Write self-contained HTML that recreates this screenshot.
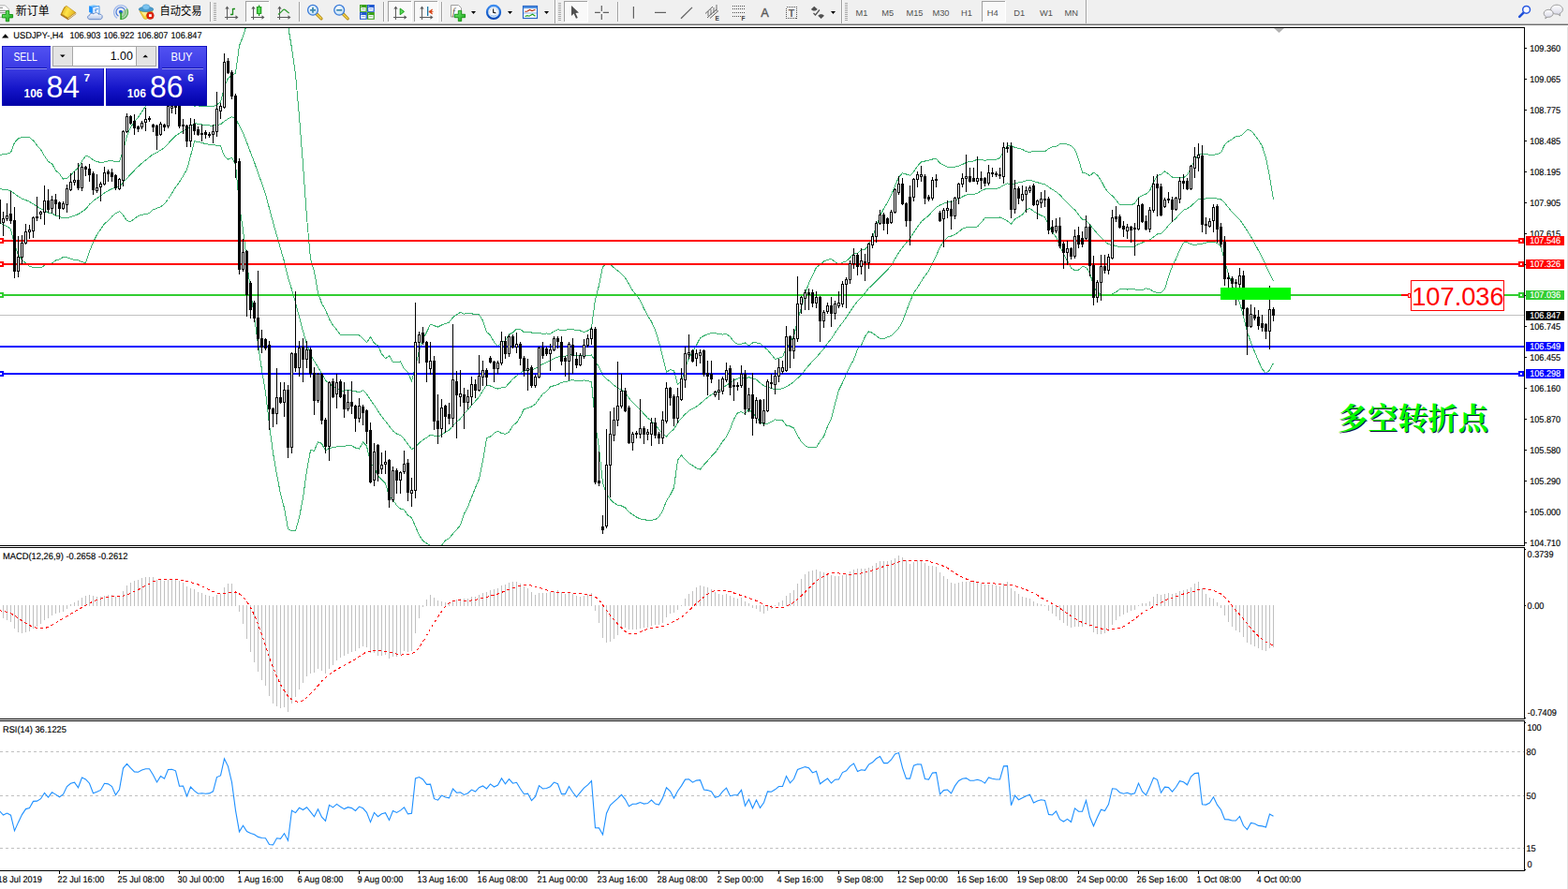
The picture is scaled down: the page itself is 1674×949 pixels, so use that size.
<!DOCTYPE html><html><head><meta charset="utf-8"><title>USDJPY H4</title><style>html,body{margin:0;padding:0;background:#fff;overflow:hidden;width:1674px;height:949px}</style></head><body><svg width="1674" height="949" viewBox="0 0 1674 949" style="position:absolute;left:0;top:0;display:block"><rect x="0" y="0" width="1674" height="949" fill="#fff" />
<g shape-rendering="crispEdges">
<rect x="0" y="29" width="1628" height="1" fill="#000" />
<rect x="1627" y="29" width="1" height="901" fill="#000" />
<rect x="0" y="582" width="1628" height="1" fill="#000" />
<rect x="0" y="584" width="1628" height="1" fill="#000" />
<rect x="0" y="767" width="1628" height="1" fill="#000" />
<rect x="0" y="769" width="1628" height="1" fill="#000" />
<rect x="0" y="929" width="1628" height="1" fill="#000" />
<rect x="1673" y="27" width="1" height="922" fill="#E4E4E4" />
</g>
<defs><clipPath id="cm"><rect x="0" y="30" width="1627" height="552"/></clipPath><clipPath id="c2"><rect x="0" y="585" width="1627" height="182"/></clipPath><clipPath id="c3"><rect x="0" y="770" width="1627" height="159"/></clipPath></defs>
<g clip-path="url(#cm)" shape-rendering="crispEdges">
<rect x="0" y="336" width="1627" height="1" fill="#C0C0C0" />
<polyline points="-0.5,165.7 3.5,164.5 7.5,164.1 11.5,162.9 15.5,152.3 19.5,147.8 23.5,146.4 27.5,146.1 31.5,146.7 35.5,150.0 39.5,155.3 43.5,159.5 47.5,166.5 51.5,172.5 55.5,174.7 59.5,182.0 63.5,185.6 67.5,191.1 71.5,190.2 75.5,187.1 79.5,182.6 83.5,179.3 87.5,172.1 91.5,166.2 95.5,167.6 99.5,170.8 103.5,172.6 107.5,173.4 111.5,173.0 115.5,171.8 119.5,171.7 123.5,172.8 127.5,172.2 131.5,160.1 135.5,145.2 139.5,135.8 143.5,130.0 147.5,125.3 151.5,119.3 155.5,113.3 159.5,108.0 163.5,105.2 167.5,103.3 171.5,100.0 175.5,97.8 179.5,94.1 183.5,91.4 187.5,89.9 191.5,90.4 195.5,91.7 199.5,94.9 203.5,102.5 207.5,113.1 211.5,112.9 215.5,113.6 219.5,113.7 223.5,113.6 227.5,113.6 231.5,111.6 235.5,109.3 239.5,92.6 243.5,83.4 247.5,80.8 251.5,78.1 255.5,48.8 259.5,38.9 263.5,25.6 267.5,15.9 271.5,8.0 275.5,1.3 279.5,-3.8 283.5,-3.8 287.5,-8.5 291.5,-9.3 295.5,-4.1 299.5,4.0 303.5,16.0 307.5,27.4 311.5,51.4 315.5,79.4 319.5,124.3 323.5,175.7 327.5,231.7 331.5,276.0 335.5,289.9 339.5,312.3 343.5,323.8 347.5,330.7 351.5,340.6 355.5,347.2 359.5,352.0 363.5,357.6 367.5,357.6 371.5,357.8 375.5,357.8 379.5,357.5 383.5,357.9 387.5,361.4 391.5,365.5 395.5,359.8 399.5,366.2 403.5,369.0 407.5,377.7 411.5,382.8 415.5,379.6 419.5,386.5 423.5,386.5 427.5,385.9 431.5,393.6 435.5,397.8 439.5,406.8 443.5,391.8 447.5,374.3 451.5,362.0 455.5,354.7 459.5,346.2 463.5,347.7 467.5,349.0 471.5,347.0 475.5,345.5 479.5,344.0 483.5,338.8 487.5,335.9 491.5,333.3 495.5,335.1 499.5,334.6 503.5,334.7 507.5,335.9 511.5,335.9 515.5,342.3 519.5,354.3 523.5,358.0 527.5,365.2 531.5,369.9 535.5,365.1 539.5,363.8 543.5,357.0 547.5,355.1 551.5,351.2 555.5,351.5 559.5,354.7 563.5,354.4 567.5,355.0 571.5,355.7 575.5,355.5 579.5,356.3 583.5,356.0 587.5,356.4 591.5,353.8 595.5,351.8 599.5,352.5 603.5,352.5 607.5,351.4 611.5,351.3 615.5,352.9 619.5,353.0 623.5,354.5 627.5,353.1 631.5,349.9 635.5,319.6 639.5,304.7 643.5,284.7 647.5,281.6 651.5,282.0 655.5,285.8 659.5,289.0 663.5,292.2 667.5,296.7 671.5,303.2 675.5,310.3 679.5,315.2 683.5,320.6 687.5,329.5 691.5,337.1 695.5,343.4 699.5,352.5 703.5,365.1 707.5,380.5 711.5,397.4 715.5,394.5 719.5,395.6 723.5,410.7 727.5,406.9 731.5,393.4 735.5,382.2 739.5,375.2 743.5,368.5 747.5,360.7 751.5,358.5 755.5,356.6 759.5,355.5 763.5,355.7 767.5,356.6 771.5,357.1 775.5,356.4 779.5,359.5 783.5,364.7 787.5,367.6 791.5,367.1 795.5,366.0 799.5,369.1 803.5,366.0 807.5,365.8 811.5,366.7 815.5,370.6 819.5,373.5 823.5,378.4 827.5,383.5 831.5,382.3 835.5,380.9 839.5,371.2 843.5,366.0 847.5,358.5 851.5,342.6 855.5,328.1 859.5,313.9 863.5,302.2 867.5,293.8 871.5,285.4 875.5,282.7 879.5,278.9 883.5,277.4 887.5,276.4 891.5,279.4 895.5,282.8 899.5,280.2 903.5,278.7 907.5,275.0 911.5,270.1 915.5,270.4 919.5,266.3 923.5,266.2 927.5,261.5 931.5,252.9 935.5,241.9 939.5,230.4 943.5,222.6 947.5,216.1 951.5,208.1 955.5,198.5 959.5,188.9 963.5,184.8 967.5,186.0 971.5,187.3 975.5,183.3 979.5,177.4 983.5,172.9 987.5,172.0 991.5,171.2 995.5,170.0 999.5,169.4 1003.5,174.1 1007.5,176.4 1011.5,178.2 1015.5,178.6 1019.5,178.2 1023.5,177.1 1027.5,175.6 1031.5,173.4 1035.5,172.4 1039.5,171.9 1043.5,170.2 1047.5,170.3 1051.5,171.4 1055.5,170.3 1059.5,170.2 1063.5,170.1 1067.5,168.6 1071.5,161.4 1075.5,155.5 1079.5,155.5 1083.5,157.5 1087.5,158.3 1091.5,159.3 1095.5,161.9 1099.5,162.3 1103.5,161.3 1107.5,161.3 1111.5,161.7 1115.5,161.9 1119.5,158.7 1123.5,156.8 1127.5,156.5 1131.5,153.8 1135.5,153.2 1139.5,154.2 1143.5,155.4 1147.5,159.2 1151.5,170.2 1155.5,184.1 1159.5,185.2 1163.5,187.6 1167.5,184.3 1171.5,186.7 1175.5,192.7 1179.5,200.4 1183.5,205.7 1187.5,209.1 1191.5,213.3 1195.5,218.9 1199.5,218.9 1203.5,218.3 1207.5,218.9 1211.5,217.1 1215.5,211.0 1219.5,208.5 1223.5,207.1 1227.5,203.6 1231.5,194.5 1235.5,187.4 1239.5,186.2 1243.5,182.9 1247.5,185.7 1251.5,189.0 1255.5,189.6 1259.5,189.7 1263.5,189.6 1267.5,186.9 1271.5,179.4 1275.5,171.0 1279.5,164.1 1283.5,164.3 1287.5,164.7 1291.5,165.2 1295.5,165.2 1299.5,164.6 1303.5,162.8 1307.5,154.5 1311.5,150.9 1315.5,148.5 1319.5,145.5 1323.5,145.6 1327.5,142.8 1331.5,138.6 1335.5,139.4 1339.5,144.0 1343.5,149.5 1347.5,155.9 1351.5,168.8 1355.5,188.5 1359.5,213.1" fill="none" stroke="#3CB371" stroke-width="1" />
<polyline points="-0.5,201.1 3.5,202.5 7.5,202.7 11.5,203.7 15.5,206.8 19.5,209.7 23.5,212.1 27.5,213.5 31.5,215.4 35.5,217.7 39.5,220.5 43.5,222.6 47.5,224.9 51.5,227.1 55.5,227.9 59.5,230.0 63.5,231.3 67.5,232.8 71.5,232.5 75.5,231.7 79.5,230.2 83.5,228.6 87.5,226.0 91.5,223.3 95.5,218.2 99.5,214.6 103.5,211.6 107.5,209.1 111.5,206.0 115.5,203.6 119.5,201.5 123.5,200.2 127.5,199.0 131.5,194.8 135.5,190.4 139.5,186.1 143.5,181.8 147.5,177.8 151.5,174.3 155.5,171.0 159.5,167.7 163.5,164.5 167.5,162.8 171.5,160.3 175.5,157.8 179.5,153.3 183.5,149.0 187.5,144.8 191.5,142.4 195.5,139.8 199.5,137.9 203.5,134.5 207.5,131.9 211.5,132.1 215.5,133.0 219.5,133.6 223.5,134.0 227.5,134.1 231.5,133.4 235.5,132.7 239.5,129.6 243.5,126.7 247.5,124.6 251.5,126.6 255.5,134.3 259.5,142.1 263.5,152.1 267.5,162.9 271.5,173.1 275.5,184.5 279.5,195.5 283.5,207.4 287.5,222.3 291.5,237.2 295.5,251.3 299.5,265.5 303.5,279.2 307.5,296.1 311.5,309.1 315.5,323.1 319.5,338.3 323.5,353.6 327.5,367.2 331.5,378.4 335.5,385.5 339.5,391.9 343.5,398.7 347.5,406.0 351.5,409.4 355.5,412.5 359.5,414.4 363.5,417.0 367.5,417.0 371.5,416.4 375.5,416.9 379.5,417.8 383.5,418.6 387.5,416.7 391.5,420.8 395.5,426.9 399.5,432.5 403.5,438.6 407.5,444.7 411.5,449.5 415.5,454.8 419.5,459.9 423.5,463.1 427.5,464.5 431.5,468.8 435.5,474.0 439.5,479.7 443.5,476.8 447.5,472.9 451.5,469.7 455.5,467.3 459.5,464.2 463.5,465.1 467.5,465.9 471.5,464.6 475.5,461.1 479.5,459.3 483.5,454.3 487.5,450.6 491.5,447.0 495.5,441.8 499.5,437.8 503.5,432.7 507.5,428.3 511.5,423.6 515.5,417.1 519.5,411.0 523.5,412.0 527.5,413.9 531.5,415.0 535.5,413.9 539.5,413.5 543.5,409.0 547.5,404.7 551.5,401.3 555.5,398.2 559.5,395.6 563.5,395.0 567.5,394.5 571.5,393.6 575.5,390.7 579.5,388.5 583.5,386.9 587.5,384.7 591.5,382.7 595.5,381.2 599.5,380.3 603.5,380.2 607.5,378.9 611.5,378.4 615.5,379.7 619.5,379.8 623.5,380.2 627.5,379.8 631.5,379.0 635.5,385.6 639.5,391.6 643.5,400.2 647.5,404.4 651.5,407.5 655.5,411.3 659.5,414.1 663.5,416.1 667.5,419.3 671.5,424.8 675.5,429.8 679.5,433.7 683.5,437.3 687.5,442.1 691.5,446.2 695.5,449.3 699.5,453.6 703.5,458.5 707.5,462.9 711.5,466.0 715.5,461.5 719.5,458.1 723.5,451.0 727.5,446.4 731.5,442.1 735.5,438.5 739.5,436.1 743.5,434.1 747.5,431.0 751.5,427.4 755.5,424.3 759.5,421.4 763.5,419.4 767.5,417.1 771.5,414.2 775.5,411.4 779.5,408.8 783.5,406.0 787.5,404.1 791.5,403.4 795.5,404.0 799.5,402.7 803.5,403.9 807.5,405.1 811.5,408.8 815.5,411.8 819.5,412.9 823.5,414.5 827.5,415.7 831.5,415.3 835.5,414.9 839.5,412.7 843.5,410.5 847.5,407.7 851.5,403.8 855.5,399.9 859.5,394.8 863.5,390.0 867.5,385.6 871.5,381.5 875.5,376.8 879.5,372.4 883.5,366.3 887.5,361.7 891.5,355.3 895.5,349.6 899.5,344.4 903.5,338.9 907.5,332.9 911.5,326.9 915.5,321.6 919.5,317.5 923.5,312.8 927.5,307.7 931.5,304.1 935.5,300.1 939.5,296.0 943.5,292.2 947.5,288.0 951.5,283.4 955.5,276.4 959.5,269.6 963.5,264.2 967.5,259.2 971.5,254.7 975.5,248.1 979.5,242.3 983.5,236.7 987.5,233.2 991.5,230.2 995.5,225.6 999.5,221.2 1003.5,219.0 1007.5,217.2 1011.5,215.7 1015.5,215.3 1019.5,214.4 1023.5,212.3 1027.5,210.0 1031.5,208.1 1035.5,207.6 1039.5,207.4 1043.5,206.1 1047.5,203.9 1051.5,202.0 1055.5,201.6 1059.5,201.5 1063.5,201.5 1067.5,200.3 1071.5,197.5 1075.5,195.8 1079.5,197.4 1083.5,195.7 1087.5,195.0 1091.5,194.3 1095.5,192.9 1099.5,192.4 1103.5,193.5 1107.5,194.7 1111.5,195.9 1115.5,196.9 1119.5,199.5 1123.5,202.3 1127.5,204.7 1131.5,208.1 1135.5,212.3 1139.5,216.3 1143.5,220.7 1147.5,224.0 1151.5,229.1 1155.5,234.3 1159.5,235.2 1163.5,239.4 1167.5,244.7 1171.5,249.3 1175.5,253.4 1179.5,257.8 1183.5,260.6 1187.5,261.5 1191.5,262.5 1195.5,263.9 1199.5,263.9 1203.5,263.7 1207.5,263.9 1211.5,262.9 1215.5,260.4 1219.5,259.0 1223.5,257.5 1227.5,256.1 1231.5,252.9 1235.5,249.9 1239.5,249.2 1243.5,245.7 1247.5,240.5 1251.5,236.6 1255.5,233.0 1259.5,228.3 1263.5,224.3 1267.5,222.8 1271.5,220.0 1275.5,216.3 1279.5,212.3 1283.5,212.2 1287.5,212.0 1291.5,211.6 1295.5,211.7 1299.5,212.1 1303.5,212.9 1307.5,216.5 1311.5,221.6 1315.5,226.7 1319.5,230.3 1323.5,234.3 1327.5,240.1 1331.5,246.4 1335.5,252.6 1339.5,259.9 1343.5,267.4 1347.5,274.8 1351.5,283.6 1355.5,291.8 1359.5,300.3" fill="none" stroke="#3CB371" stroke-width="1" />
<polyline points="-0.5,236.4 3.5,240.5 7.5,241.4 11.5,244.5 15.5,261.3 19.5,271.7 23.5,277.7 27.5,280.9 31.5,284.2 35.5,285.5 39.5,285.7 43.5,285.8 47.5,283.3 51.5,281.7 55.5,281.1 59.5,278.0 63.5,276.9 67.5,274.4 71.5,274.8 75.5,276.2 79.5,277.7 83.5,277.8 87.5,279.8 91.5,280.3 95.5,268.7 99.5,258.4 103.5,250.6 107.5,244.7 111.5,238.9 115.5,235.5 119.5,231.2 123.5,227.5 127.5,225.8 131.5,229.6 135.5,235.7 139.5,236.4 143.5,233.6 147.5,230.4 151.5,229.3 155.5,228.7 159.5,227.4 163.5,223.8 167.5,222.3 171.5,220.7 175.5,217.7 179.5,212.5 183.5,206.5 187.5,199.8 191.5,194.4 195.5,188.0 199.5,181.0 203.5,166.6 207.5,150.8 211.5,151.3 215.5,152.4 219.5,153.6 223.5,154.3 227.5,154.6 231.5,155.2 235.5,156.0 239.5,166.6 243.5,170.1 247.5,168.4 251.5,175.2 255.5,219.7 259.5,245.3 263.5,278.7 267.5,310.0 271.5,338.3 275.5,367.7 279.5,394.8 283.5,418.6 287.5,453.2 291.5,483.6 295.5,506.7 299.5,527.1 303.5,542.4 307.5,564.8 311.5,566.9 315.5,566.8 319.5,552.4 323.5,531.5 327.5,502.6 331.5,480.9 335.5,481.1 339.5,471.6 343.5,473.5 347.5,481.2 351.5,478.2 355.5,477.9 359.5,476.9 363.5,476.4 367.5,476.4 371.5,475.1 375.5,475.9 379.5,478.0 383.5,479.2 387.5,472.0 391.5,476.2 395.5,494.0 399.5,498.7 403.5,508.1 407.5,511.8 411.5,516.2 415.5,529.9 419.5,533.3 423.5,539.7 427.5,543.1 431.5,544.1 435.5,550.1 439.5,552.6 443.5,561.9 447.5,571.4 451.5,577.3 455.5,580.0 459.5,582.2 463.5,582.4 467.5,582.8 471.5,582.3 475.5,576.8 479.5,574.7 483.5,569.9 487.5,565.3 491.5,560.7 495.5,548.5 499.5,541.0 503.5,530.7 507.5,520.7 511.5,511.3 515.5,491.8 519.5,467.7 523.5,466.1 527.5,462.5 531.5,460.1 535.5,462.6 539.5,463.2 543.5,461.0 547.5,454.2 551.5,451.3 555.5,444.8 559.5,436.5 563.5,435.6 567.5,434.0 571.5,431.4 575.5,425.9 579.5,420.6 583.5,417.7 587.5,413.0 591.5,411.7 595.5,410.6 599.5,408.1 603.5,407.9 607.5,406.4 611.5,405.6 615.5,406.5 619.5,406.6 623.5,406.0 627.5,406.5 631.5,408.0 635.5,451.6 639.5,478.5 643.5,515.7 647.5,527.3 651.5,533.0 655.5,536.9 659.5,539.1 663.5,540.0 667.5,542.0 671.5,546.5 675.5,549.3 679.5,552.1 683.5,553.9 687.5,554.7 691.5,555.3 695.5,555.2 699.5,554.6 703.5,551.9 707.5,545.2 711.5,534.6 715.5,528.5 719.5,520.6 723.5,491.2 727.5,485.9 731.5,490.8 735.5,494.7 739.5,496.9 743.5,499.7 747.5,501.2 751.5,496.2 755.5,491.9 759.5,487.2 763.5,483.2 767.5,477.6 771.5,471.3 775.5,466.4 779.5,458.1 783.5,447.3 787.5,440.7 791.5,439.6 795.5,442.0 799.5,436.3 803.5,441.7 807.5,444.3 811.5,450.8 815.5,453.0 819.5,452.3 823.5,450.5 827.5,447.9 831.5,448.4 835.5,448.9 839.5,454.1 843.5,455.0 847.5,457.0 851.5,464.9 855.5,471.6 859.5,475.7 863.5,477.7 867.5,477.4 871.5,477.6 875.5,470.9 879.5,465.9 883.5,455.3 887.5,446.9 891.5,431.3 895.5,416.4 899.5,408.6 903.5,399.1 907.5,390.9 911.5,383.8 915.5,372.7 919.5,368.7 923.5,359.3 927.5,353.9 931.5,355.4 935.5,358.4 939.5,361.6 943.5,361.8 947.5,359.8 951.5,358.6 955.5,354.4 959.5,350.2 963.5,343.5 967.5,332.4 971.5,322.1 975.5,312.8 979.5,307.1 983.5,300.5 987.5,294.4 991.5,289.2 995.5,281.2 999.5,273.0 1003.5,263.9 1007.5,257.9 1011.5,253.1 1015.5,252.0 1019.5,250.6 1023.5,247.6 1027.5,244.3 1031.5,242.7 1035.5,242.8 1039.5,242.9 1043.5,241.9 1047.5,237.6 1051.5,232.6 1055.5,232.9 1059.5,232.9 1063.5,232.9 1067.5,232.0 1071.5,233.7 1075.5,236.0 1079.5,239.3 1083.5,233.9 1087.5,231.7 1091.5,229.3 1095.5,224.0 1099.5,222.5 1103.5,225.6 1107.5,228.1 1111.5,230.0 1115.5,231.9 1119.5,240.3 1123.5,247.8 1127.5,253.0 1131.5,262.3 1135.5,271.5 1139.5,278.5 1143.5,286.0 1147.5,288.8 1151.5,288.1 1155.5,284.5 1159.5,285.3 1163.5,291.2 1167.5,305.1 1171.5,312.0 1175.5,314.1 1179.5,315.2 1183.5,315.4 1187.5,313.9 1191.5,311.7 1195.5,308.9 1199.5,308.9 1203.5,309.0 1207.5,308.9 1211.5,308.8 1215.5,309.9 1219.5,309.5 1223.5,307.9 1227.5,308.5 1231.5,311.3 1235.5,312.4 1239.5,312.3 1243.5,308.6 1247.5,295.3 1251.5,284.3 1255.5,276.4 1259.5,266.8 1263.5,259.1 1267.5,258.7 1271.5,260.6 1275.5,261.6 1279.5,260.6 1283.5,260.1 1287.5,259.3 1291.5,258.0 1295.5,258.2 1299.5,259.5 1303.5,263.0 1307.5,278.6 1311.5,292.2 1315.5,304.8 1319.5,315.1 1323.5,323.1 1327.5,337.5 1331.5,354.2 1335.5,365.8 1339.5,375.7 1343.5,385.4 1347.5,393.8 1351.5,398.5 1355.5,395.0 1359.5,387.6" fill="none" stroke="#3CB371" stroke-width="1" />
<rect x="0" y="256" width="1627" height="2" fill="#FF0000" />
<rect x="0" y="281" width="1627" height="2" fill="#FF0000" />
<rect x="0" y="314" width="1627" height="2" fill="#32CD32" />
<rect x="0" y="369" width="1627" height="2" fill="#0000FF" />
<rect x="0" y="398" width="1627" height="2" fill="#0000FF" />
<rect x="3" y="226" width="1" height="26" fill="#000" />
<rect x="2" y="233" width="3" height="5" fill="#000" />
<rect x="3" y="234" width="1" height="3" fill="#fff" />
<rect x="7" y="217" width="1" height="19" fill="#000" />
<rect x="6" y="230" width="3" height="4" fill="#000" />
<rect x="7" y="231" width="1" height="2" fill="#fff" />
<rect x="11" y="204" width="1" height="35" fill="#000" />
<rect x="10" y="228" width="3" height="8" fill="#000" />
<rect x="15" y="221" width="1" height="76" fill="#000" />
<rect x="14" y="235" width="3" height="55" fill="#000" />
<rect x="19" y="252" width="1" height="44" fill="#000" />
<rect x="18" y="274" width="3" height="16" fill="#000" />
<rect x="19" y="275" width="1" height="14" fill="#fff" />
<rect x="23" y="251" width="1" height="31" fill="#000" />
<rect x="22" y="259" width="3" height="16" fill="#000" />
<rect x="23" y="260" width="1" height="14" fill="#fff" />
<rect x="27" y="239" width="1" height="22" fill="#000" />
<rect x="26" y="247" width="3" height="13" fill="#000" />
<rect x="27" y="248" width="1" height="11" fill="#fff" />
<rect x="31" y="240" width="1" height="15" fill="#000" />
<rect x="30" y="245" width="3" height="3" fill="#000" />
<rect x="31" y="246" width="1" height="1" fill="#fff" />
<rect x="35" y="231" width="1" height="23" fill="#000" />
<rect x="34" y="232" width="3" height="15" fill="#000" />
<rect x="35" y="233" width="1" height="13" fill="#fff" />
<rect x="39" y="210" width="1" height="26" fill="#000" />
<rect x="38" y="231" width="3" height="2" fill="#000" />
<rect x="43" y="225" width="1" height="9" fill="#000" />
<rect x="42" y="226" width="3" height="3" fill="#000" />
<rect x="43" y="227" width="1" height="1" fill="#fff" />
<rect x="47" y="198" width="1" height="42" fill="#000" />
<rect x="46" y="214" width="3" height="13" fill="#000" />
<rect x="47" y="215" width="1" height="11" fill="#fff" />
<rect x="51" y="202" width="1" height="25" fill="#000" />
<rect x="50" y="214" width="3" height="10" fill="#000" />
<rect x="55" y="209" width="1" height="19" fill="#000" />
<rect x="54" y="213" width="3" height="10" fill="#000" />
<rect x="55" y="214" width="1" height="8" fill="#fff" />
<rect x="59" y="207" width="1" height="23" fill="#000" />
<rect x="58" y="213" width="3" height="5" fill="#000" />
<rect x="63" y="215" width="1" height="19" fill="#000" />
<rect x="62" y="216" width="3" height="7" fill="#000" />
<rect x="67" y="215" width="1" height="9" fill="#000" />
<rect x="66" y="217" width="3" height="6" fill="#000" />
<rect x="67" y="218" width="1" height="4" fill="#fff" />
<rect x="71" y="197" width="1" height="30" fill="#000" />
<rect x="70" y="201" width="3" height="18" fill="#000" />
<rect x="71" y="202" width="1" height="16" fill="#fff" />
<rect x="75" y="185" width="1" height="19" fill="#000" />
<rect x="74" y="194" width="3" height="9" fill="#000" />
<rect x="75" y="195" width="1" height="7" fill="#fff" />
<rect x="79" y="183" width="1" height="15" fill="#000" />
<rect x="78" y="192" width="3" height="3" fill="#000" />
<rect x="79" y="193" width="1" height="1" fill="#fff" />
<rect x="83" y="174" width="1" height="29" fill="#000" />
<rect x="82" y="192" width="3" height="9" fill="#000" />
<rect x="87" y="174" width="1" height="30" fill="#000" />
<rect x="86" y="178" width="3" height="23" fill="#000" />
<rect x="87" y="179" width="1" height="21" fill="#fff" />
<rect x="91" y="177" width="1" height="11" fill="#000" />
<rect x="90" y="178" width="3" height="3" fill="#000" />
<rect x="95" y="175" width="1" height="19" fill="#000" />
<rect x="94" y="180" width="3" height="7" fill="#000" />
<rect x="99" y="183" width="1" height="25" fill="#000" />
<rect x="98" y="185" width="3" height="18" fill="#000" />
<rect x="103" y="186" width="1" height="20" fill="#000" />
<rect x="102" y="200" width="3" height="4" fill="#000" />
<rect x="103" y="201" width="1" height="2" fill="#fff" />
<rect x="107" y="194" width="1" height="21" fill="#000" />
<rect x="106" y="196" width="3" height="4" fill="#000" />
<rect x="107" y="197" width="1" height="2" fill="#fff" />
<rect x="111" y="178" width="1" height="20" fill="#000" />
<rect x="110" y="184" width="3" height="13" fill="#000" />
<rect x="111" y="185" width="1" height="11" fill="#fff" />
<rect x="115" y="181" width="1" height="13" fill="#000" />
<rect x="114" y="183" width="3" height="3" fill="#000" />
<rect x="119" y="180" width="1" height="14" fill="#000" />
<rect x="118" y="184" width="3" height="5" fill="#000" />
<rect x="123" y="186" width="1" height="17" fill="#000" />
<rect x="122" y="187" width="3" height="14" fill="#000" />
<rect x="127" y="190" width="1" height="13" fill="#000" />
<rect x="126" y="191" width="3" height="11" fill="#000" />
<rect x="127" y="192" width="1" height="9" fill="#fff" />
<rect x="131" y="139" width="1" height="60" fill="#000" />
<rect x="130" y="140" width="3" height="53" fill="#000" />
<rect x="131" y="141" width="1" height="51" fill="#fff" />
<rect x="135" y="121" width="1" height="21" fill="#000" />
<rect x="134" y="124" width="3" height="17" fill="#000" />
<rect x="135" y="125" width="1" height="15" fill="#fff" />
<rect x="139" y="123" width="1" height="10" fill="#000" />
<rect x="138" y="124" width="3" height="8" fill="#000" />
<rect x="143" y="122" width="1" height="22" fill="#000" />
<rect x="142" y="129" width="3" height="8" fill="#000" />
<rect x="147" y="134" width="1" height="7" fill="#000" />
<rect x="146" y="135" width="3" height="3" fill="#000" />
<rect x="151" y="129" width="1" height="9" fill="#000" />
<rect x="150" y="131" width="3" height="5" fill="#000" />
<rect x="151" y="132" width="1" height="3" fill="#fff" />
<rect x="155" y="115" width="1" height="25" fill="#000" />
<rect x="154" y="127" width="3" height="4" fill="#000" />
<rect x="155" y="128" width="1" height="2" fill="#fff" />
<rect x="159" y="124" width="1" height="6" fill="#000" />
<rect x="158" y="126" width="3" height="2" fill="#000" />
<rect x="163" y="132" width="1" height="9" fill="#000" />
<rect x="162" y="133" width="3" height="3" fill="#000" />
<rect x="167" y="133" width="1" height="27" fill="#000" />
<rect x="166" y="134" width="3" height="11" fill="#000" />
<rect x="171" y="130" width="1" height="15" fill="#000" />
<rect x="170" y="132" width="3" height="12" fill="#000" />
<rect x="171" y="133" width="1" height="10" fill="#fff" />
<rect x="175" y="132" width="1" height="8" fill="#000" />
<rect x="174" y="133" width="3" height="3" fill="#000" />
<rect x="179" y="112" width="1" height="25" fill="#000" />
<rect x="178" y="113" width="3" height="22" fill="#000" />
<rect x="179" y="114" width="1" height="20" fill="#fff" />
<rect x="183" y="108" width="1" height="13" fill="#000" />
<rect x="182" y="113" width="3" height="3" fill="#000" />
<rect x="183" y="114" width="1" height="1" fill="#fff" />
<rect x="187" y="109" width="1" height="13" fill="#000" />
<rect x="186" y="113" width="3" height="2" fill="#000" />
<rect x="191" y="112" width="1" height="25" fill="#000" />
<rect x="190" y="113" width="3" height="22" fill="#000" />
<rect x="195" y="127" width="1" height="16" fill="#000" />
<rect x="194" y="133" width="3" height="2" fill="#000" />
<rect x="199" y="133" width="1" height="24" fill="#000" />
<rect x="198" y="134" width="3" height="17" fill="#000" />
<rect x="203" y="126" width="1" height="31" fill="#000" />
<rect x="202" y="133" width="3" height="18" fill="#000" />
<rect x="203" y="134" width="1" height="16" fill="#fff" />
<rect x="207" y="127" width="1" height="17" fill="#000" />
<rect x="206" y="132" width="3" height="8" fill="#000" />
<rect x="211" y="135" width="1" height="10" fill="#000" />
<rect x="210" y="138" width="3" height="6" fill="#000" />
<rect x="215" y="133" width="1" height="18" fill="#000" />
<rect x="214" y="142" width="3" height="2" fill="#000" />
<rect x="219" y="139" width="1" height="9" fill="#000" />
<rect x="218" y="141" width="3" height="3" fill="#000" />
<rect x="223" y="141" width="1" height="6" fill="#000" />
<rect x="222" y="143" width="3" height="2" fill="#000" />
<rect x="227" y="133" width="1" height="20" fill="#000" />
<rect x="226" y="140" width="3" height="4" fill="#000" />
<rect x="227" y="141" width="1" height="2" fill="#fff" />
<rect x="231" y="98" width="1" height="48" fill="#000" />
<rect x="230" y="116" width="3" height="25" fill="#000" />
<rect x="231" y="117" width="1" height="23" fill="#fff" />
<rect x="235" y="110" width="1" height="17" fill="#000" />
<rect x="234" y="113" width="3" height="6" fill="#000" />
<rect x="235" y="114" width="1" height="4" fill="#fff" />
<rect x="239" y="57" width="1" height="59" fill="#000" />
<rect x="238" y="66" width="3" height="49" fill="#000" />
<rect x="239" y="67" width="1" height="47" fill="#fff" />
<rect x="243" y="62" width="1" height="17" fill="#000" />
<rect x="242" y="65" width="3" height="13" fill="#000" />
<rect x="247" y="75" width="1" height="31" fill="#000" />
<rect x="246" y="77" width="3" height="26" fill="#000" />
<rect x="251" y="100" width="1" height="90" fill="#000" />
<rect x="250" y="102" width="3" height="72" fill="#000" />
<rect x="255" y="169" width="1" height="124" fill="#000" />
<rect x="254" y="172" width="3" height="116" fill="#000" />
<rect x="259" y="255" width="1" height="35" fill="#000" />
<rect x="258" y="269" width="3" height="19" fill="#000" />
<rect x="259" y="270" width="1" height="17" fill="#fff" />
<rect x="263" y="267" width="1" height="71" fill="#000" />
<rect x="262" y="268" width="3" height="47" fill="#000" />
<rect x="267" y="300" width="1" height="40" fill="#000" />
<rect x="266" y="302" width="3" height="29" fill="#000" />
<rect x="271" y="321" width="1" height="23" fill="#000" />
<rect x="270" y="323" width="3" height="17" fill="#000" />
<rect x="275" y="289" width="1" height="85" fill="#000" />
<rect x="274" y="339" width="3" height="23" fill="#000" />
<rect x="279" y="352" width="1" height="25" fill="#000" />
<rect x="278" y="361" width="3" height="10" fill="#000" />
<rect x="283" y="361" width="1" height="13" fill="#000" />
<rect x="282" y="362" width="3" height="10" fill="#000" />
<rect x="287" y="364" width="1" height="95" fill="#000" />
<rect x="286" y="368" width="3" height="69" fill="#000" />
<rect x="291" y="435" width="1" height="21" fill="#000" />
<rect x="290" y="436" width="3" height="6" fill="#000" />
<rect x="295" y="393" width="1" height="60" fill="#000" />
<rect x="294" y="424" width="3" height="18" fill="#000" />
<rect x="295" y="425" width="1" height="16" fill="#fff" />
<rect x="299" y="408" width="1" height="23" fill="#000" />
<rect x="298" y="424" width="3" height="6" fill="#000" />
<rect x="303" y="408" width="1" height="37" fill="#000" />
<rect x="302" y="416" width="3" height="14" fill="#000" />
<rect x="303" y="417" width="1" height="12" fill="#fff" />
<rect x="307" y="411" width="1" height="78" fill="#000" />
<rect x="306" y="416" width="3" height="62" fill="#000" />
<rect x="311" y="376" width="1" height="108" fill="#000" />
<rect x="310" y="377" width="3" height="101" fill="#000" />
<rect x="311" y="378" width="1" height="99" fill="#fff" />
<rect x="315" y="311" width="1" height="86" fill="#000" />
<rect x="314" y="377" width="3" height="16" fill="#000" />
<rect x="319" y="364" width="1" height="38" fill="#000" />
<rect x="318" y="371" width="3" height="22" fill="#000" />
<rect x="319" y="372" width="1" height="20" fill="#fff" />
<rect x="323" y="361" width="1" height="47" fill="#000" />
<rect x="322" y="370" width="3" height="14" fill="#000" />
<rect x="327" y="364" width="1" height="29" fill="#000" />
<rect x="326" y="373" width="3" height="11" fill="#000" />
<rect x="327" y="374" width="1" height="9" fill="#fff" />
<rect x="331" y="371" width="1" height="32" fill="#000" />
<rect x="330" y="373" width="3" height="26" fill="#000" />
<rect x="335" y="392" width="1" height="51" fill="#000" />
<rect x="334" y="398" width="3" height="30" fill="#000" />
<rect x="339" y="398" width="1" height="32" fill="#000" />
<rect x="338" y="399" width="3" height="29" fill="#000" />
<rect x="339" y="400" width="1" height="27" fill="#fff" />
<rect x="343" y="398" width="1" height="55" fill="#000" />
<rect x="342" y="399" width="3" height="50" fill="#000" />
<rect x="347" y="446" width="1" height="38" fill="#000" />
<rect x="346" y="448" width="3" height="29" fill="#000" />
<rect x="351" y="407" width="1" height="85" fill="#000" />
<rect x="350" y="408" width="3" height="69" fill="#000" />
<rect x="351" y="409" width="1" height="67" fill="#fff" />
<rect x="355" y="404" width="1" height="21" fill="#000" />
<rect x="354" y="407" width="3" height="17" fill="#000" />
<rect x="359" y="399" width="1" height="37" fill="#000" />
<rect x="358" y="408" width="3" height="13" fill="#000" />
<rect x="359" y="409" width="1" height="11" fill="#fff" />
<rect x="363" y="405" width="1" height="20" fill="#000" />
<rect x="362" y="407" width="3" height="17" fill="#000" />
<rect x="367" y="408" width="1" height="38" fill="#000" />
<rect x="366" y="421" width="3" height="16" fill="#000" />
<rect x="371" y="416" width="1" height="23" fill="#000" />
<rect x="370" y="429" width="3" height="8" fill="#000" />
<rect x="371" y="430" width="1" height="6" fill="#fff" />
<rect x="375" y="407" width="1" height="35" fill="#000" />
<rect x="374" y="429" width="3" height="5" fill="#000" />
<rect x="379" y="432" width="1" height="29" fill="#000" />
<rect x="378" y="433" width="3" height="14" fill="#000" />
<rect x="383" y="425" width="1" height="26" fill="#000" />
<rect x="382" y="433" width="3" height="14" fill="#000" />
<rect x="383" y="434" width="1" height="12" fill="#fff" />
<rect x="387" y="432" width="1" height="22" fill="#000" />
<rect x="386" y="434" width="3" height="7" fill="#000" />
<rect x="391" y="437" width="1" height="37" fill="#000" />
<rect x="390" y="438" width="3" height="23" fill="#000" />
<rect x="395" y="451" width="1" height="65" fill="#000" />
<rect x="394" y="459" width="3" height="56" fill="#000" />
<rect x="399" y="473" width="1" height="46" fill="#000" />
<rect x="398" y="482" width="3" height="31" fill="#000" />
<rect x="399" y="483" width="1" height="29" fill="#fff" />
<rect x="403" y="474" width="1" height="40" fill="#000" />
<rect x="402" y="475" width="3" height="31" fill="#000" />
<rect x="407" y="483" width="1" height="23" fill="#000" />
<rect x="406" y="496" width="3" height="5" fill="#000" />
<rect x="407" y="497" width="1" height="3" fill="#fff" />
<rect x="411" y="481" width="1" height="25" fill="#000" />
<rect x="410" y="493" width="3" height="3" fill="#000" />
<rect x="411" y="494" width="1" height="1" fill="#fff" />
<rect x="415" y="490" width="1" height="52" fill="#000" />
<rect x="414" y="491" width="3" height="43" fill="#000" />
<rect x="419" y="498" width="1" height="38" fill="#000" />
<rect x="418" y="502" width="3" height="32" fill="#000" />
<rect x="419" y="503" width="1" height="30" fill="#fff" />
<rect x="423" y="500" width="1" height="27" fill="#000" />
<rect x="422" y="502" width="3" height="11" fill="#000" />
<rect x="427" y="503" width="1" height="24" fill="#000" />
<rect x="426" y="504" width="3" height="9" fill="#000" />
<rect x="427" y="505" width="1" height="7" fill="#fff" />
<rect x="431" y="481" width="1" height="25" fill="#000" />
<rect x="430" y="495" width="3" height="9" fill="#000" />
<rect x="431" y="496" width="1" height="7" fill="#fff" />
<rect x="435" y="490" width="1" height="45" fill="#000" />
<rect x="434" y="494" width="3" height="32" fill="#000" />
<rect x="439" y="510" width="1" height="31" fill="#000" />
<rect x="438" y="523" width="3" height="4" fill="#000" />
<rect x="439" y="524" width="1" height="2" fill="#fff" />
<rect x="443" y="323" width="1" height="209" fill="#000" />
<rect x="442" y="365" width="3" height="159" fill="#000" />
<rect x="443" y="366" width="1" height="157" fill="#fff" />
<rect x="447" y="354" width="1" height="34" fill="#000" />
<rect x="446" y="357" width="3" height="9" fill="#000" />
<rect x="447" y="358" width="1" height="7" fill="#fff" />
<rect x="451" y="349" width="1" height="19" fill="#000" />
<rect x="450" y="355" width="3" height="11" fill="#000" />
<rect x="455" y="364" width="1" height="44" fill="#000" />
<rect x="454" y="365" width="3" height="22" fill="#000" />
<rect x="459" y="365" width="1" height="35" fill="#000" />
<rect x="458" y="385" width="3" height="9" fill="#000" />
<rect x="459" y="386" width="1" height="7" fill="#fff" />
<rect x="463" y="380" width="1" height="79" fill="#000" />
<rect x="462" y="385" width="3" height="65" fill="#000" />
<rect x="467" y="421" width="1" height="53" fill="#000" />
<rect x="466" y="449" width="3" height="9" fill="#000" />
<rect x="471" y="426" width="1" height="41" fill="#000" />
<rect x="470" y="435" width="3" height="23" fill="#000" />
<rect x="471" y="436" width="1" height="21" fill="#fff" />
<rect x="475" y="432" width="1" height="30" fill="#000" />
<rect x="474" y="433" width="3" height="12" fill="#000" />
<rect x="479" y="430" width="1" height="23" fill="#000" />
<rect x="478" y="442" width="3" height="5" fill="#000" />
<rect x="483" y="346" width="1" height="110" fill="#000" />
<rect x="482" y="405" width="3" height="42" fill="#000" />
<rect x="483" y="406" width="1" height="40" fill="#fff" />
<rect x="487" y="396" width="1" height="72" fill="#000" />
<rect x="486" y="407" width="3" height="15" fill="#000" />
<rect x="491" y="395" width="1" height="39" fill="#000" />
<rect x="490" y="420" width="3" height="4" fill="#000" />
<rect x="491" y="421" width="1" height="2" fill="#fff" />
<rect x="495" y="414" width="1" height="44" fill="#000" />
<rect x="494" y="421" width="3" height="9" fill="#000" />
<rect x="499" y="416" width="1" height="21" fill="#000" />
<rect x="498" y="423" width="3" height="7" fill="#000" />
<rect x="499" y="424" width="1" height="5" fill="#fff" />
<rect x="503" y="402" width="1" height="31" fill="#000" />
<rect x="502" y="410" width="3" height="14" fill="#000" />
<rect x="503" y="411" width="1" height="12" fill="#fff" />
<rect x="507" y="405" width="1" height="20" fill="#000" />
<rect x="506" y="410" width="3" height="7" fill="#000" />
<rect x="511" y="379" width="1" height="39" fill="#000" />
<rect x="510" y="401" width="3" height="16" fill="#000" />
<rect x="511" y="402" width="1" height="14" fill="#fff" />
<rect x="515" y="385" width="1" height="27" fill="#000" />
<rect x="514" y="395" width="3" height="8" fill="#000" />
<rect x="515" y="396" width="1" height="6" fill="#fff" />
<rect x="519" y="393" width="1" height="19" fill="#000" />
<rect x="518" y="395" width="3" height="8" fill="#000" />
<rect x="523" y="380" width="1" height="8" fill="#000" />
<rect x="522" y="382" width="3" height="5" fill="#000" />
<rect x="527" y="385" width="1" height="23" fill="#000" />
<rect x="526" y="386" width="3" height="8" fill="#000" />
<rect x="531" y="385" width="1" height="14" fill="#000" />
<rect x="530" y="387" width="3" height="7" fill="#000" />
<rect x="531" y="388" width="1" height="5" fill="#fff" />
<rect x="535" y="354" width="1" height="36" fill="#000" />
<rect x="534" y="364" width="3" height="24" fill="#000" />
<rect x="535" y="365" width="1" height="22" fill="#fff" />
<rect x="539" y="359" width="1" height="24" fill="#000" />
<rect x="538" y="364" width="3" height="14" fill="#000" />
<rect x="543" y="357" width="1" height="24" fill="#000" />
<rect x="542" y="359" width="3" height="19" fill="#000" />
<rect x="543" y="360" width="1" height="17" fill="#fff" />
<rect x="547" y="357" width="1" height="15" fill="#000" />
<rect x="546" y="359" width="3" height="12" fill="#000" />
<rect x="551" y="355" width="1" height="22" fill="#000" />
<rect x="550" y="367" width="3" height="4" fill="#000" />
<rect x="551" y="368" width="1" height="2" fill="#fff" />
<rect x="555" y="365" width="1" height="25" fill="#000" />
<rect x="554" y="367" width="3" height="16" fill="#000" />
<rect x="559" y="380" width="1" height="22" fill="#000" />
<rect x="558" y="382" width="3" height="14" fill="#000" />
<rect x="563" y="383" width="1" height="34" fill="#000" />
<rect x="562" y="393" width="3" height="3" fill="#000" />
<rect x="563" y="394" width="1" height="1" fill="#fff" />
<rect x="567" y="390" width="1" height="24" fill="#000" />
<rect x="566" y="392" width="3" height="20" fill="#000" />
<rect x="571" y="400" width="1" height="14" fill="#000" />
<rect x="570" y="402" width="3" height="10" fill="#000" />
<rect x="571" y="403" width="1" height="8" fill="#fff" />
<rect x="575" y="370" width="1" height="34" fill="#000" />
<rect x="574" y="371" width="3" height="32" fill="#000" />
<rect x="575" y="372" width="1" height="30" fill="#fff" />
<rect x="579" y="365" width="1" height="18" fill="#000" />
<rect x="578" y="371" width="3" height="9" fill="#000" />
<rect x="583" y="370" width="1" height="10" fill="#000" />
<rect x="582" y="372" width="3" height="6" fill="#000" />
<rect x="587" y="367" width="1" height="29" fill="#000" />
<rect x="586" y="373" width="3" height="5" fill="#000" />
<rect x="587" y="374" width="1" height="3" fill="#fff" />
<rect x="591" y="359" width="1" height="16" fill="#000" />
<rect x="590" y="361" width="3" height="13" fill="#000" />
<rect x="591" y="362" width="1" height="11" fill="#fff" />
<rect x="595" y="359" width="1" height="13" fill="#000" />
<rect x="594" y="361" width="3" height="4" fill="#000" />
<rect x="599" y="359" width="1" height="31" fill="#000" />
<rect x="598" y="365" width="3" height="21" fill="#000" />
<rect x="603" y="380" width="1" height="22" fill="#000" />
<rect x="602" y="382" width="3" height="4" fill="#000" />
<rect x="607" y="365" width="1" height="41" fill="#000" />
<rect x="606" y="367" width="3" height="19" fill="#000" />
<rect x="607" y="368" width="1" height="17" fill="#fff" />
<rect x="611" y="361" width="1" height="38" fill="#000" />
<rect x="610" y="368" width="3" height="12" fill="#000" />
<rect x="615" y="376" width="1" height="17" fill="#000" />
<rect x="614" y="383" width="3" height="7" fill="#000" />
<rect x="619" y="377" width="1" height="14" fill="#000" />
<rect x="618" y="379" width="3" height="11" fill="#000" />
<rect x="619" y="380" width="1" height="9" fill="#fff" />
<rect x="623" y="362" width="1" height="21" fill="#000" />
<rect x="622" y="368" width="3" height="13" fill="#000" />
<rect x="623" y="369" width="1" height="11" fill="#fff" />
<rect x="627" y="357" width="1" height="14" fill="#000" />
<rect x="626" y="361" width="3" height="8" fill="#000" />
<rect x="627" y="362" width="1" height="6" fill="#fff" />
<rect x="631" y="349" width="1" height="19" fill="#000" />
<rect x="630" y="351" width="3" height="11" fill="#000" />
<rect x="631" y="352" width="1" height="9" fill="#fff" />
<rect x="635" y="349" width="1" height="168" fill="#000" />
<rect x="634" y="351" width="3" height="164" fill="#000" />
<rect x="639" y="482" width="1" height="37" fill="#000" />
<rect x="638" y="513" width="3" height="3" fill="#000" />
<rect x="643" y="550" width="1" height="20" fill="#000" />
<rect x="642" y="562" width="3" height="4" fill="#000" />
<rect x="647" y="458" width="1" height="106" fill="#000" />
<rect x="646" y="496" width="3" height="66" fill="#000" />
<rect x="647" y="497" width="1" height="64" fill="#fff" />
<rect x="651" y="439" width="1" height="92" fill="#000" />
<rect x="650" y="463" width="3" height="34" fill="#000" />
<rect x="651" y="464" width="1" height="32" fill="#fff" />
<rect x="655" y="435" width="1" height="36" fill="#000" />
<rect x="654" y="448" width="3" height="17" fill="#000" />
<rect x="655" y="449" width="1" height="15" fill="#fff" />
<rect x="659" y="386" width="1" height="69" fill="#000" />
<rect x="658" y="433" width="3" height="16" fill="#000" />
<rect x="659" y="434" width="1" height="14" fill="#fff" />
<rect x="663" y="399" width="1" height="37" fill="#000" />
<rect x="662" y="417" width="3" height="17" fill="#000" />
<rect x="663" y="418" width="1" height="15" fill="#fff" />
<rect x="667" y="414" width="1" height="26" fill="#000" />
<rect x="666" y="417" width="3" height="22" fill="#000" />
<rect x="671" y="433" width="1" height="41" fill="#000" />
<rect x="670" y="435" width="3" height="38" fill="#000" />
<rect x="675" y="461" width="1" height="20" fill="#000" />
<rect x="674" y="463" width="3" height="10" fill="#000" />
<rect x="675" y="464" width="1" height="8" fill="#fff" />
<rect x="679" y="460" width="1" height="8" fill="#000" />
<rect x="678" y="462" width="3" height="2" fill="#000" />
<rect x="683" y="426" width="1" height="42" fill="#000" />
<rect x="682" y="457" width="3" height="7" fill="#000" />
<rect x="683" y="458" width="1" height="5" fill="#fff" />
<rect x="687" y="455" width="1" height="19" fill="#000" />
<rect x="686" y="457" width="3" height="7" fill="#000" />
<rect x="691" y="458" width="1" height="12" fill="#000" />
<rect x="690" y="461" width="3" height="3" fill="#000" />
<rect x="691" y="462" width="1" height="1" fill="#fff" />
<rect x="695" y="446" width="1" height="30" fill="#000" />
<rect x="694" y="451" width="3" height="13" fill="#000" />
<rect x="695" y="452" width="1" height="11" fill="#fff" />
<rect x="699" y="446" width="1" height="22" fill="#000" />
<rect x="698" y="451" width="3" height="14" fill="#000" />
<rect x="703" y="461" width="1" height="13" fill="#000" />
<rect x="702" y="463" width="3" height="5" fill="#000" />
<rect x="707" y="439" width="1" height="35" fill="#000" />
<rect x="706" y="448" width="3" height="20" fill="#000" />
<rect x="707" y="449" width="1" height="18" fill="#fff" />
<rect x="711" y="408" width="1" height="44" fill="#000" />
<rect x="710" y="414" width="3" height="36" fill="#000" />
<rect x="711" y="415" width="1" height="34" fill="#fff" />
<rect x="715" y="413" width="1" height="20" fill="#000" />
<rect x="714" y="414" width="3" height="11" fill="#000" />
<rect x="719" y="421" width="1" height="34" fill="#000" />
<rect x="718" y="423" width="3" height="24" fill="#000" />
<rect x="723" y="414" width="1" height="38" fill="#000" />
<rect x="722" y="423" width="3" height="24" fill="#000" />
<rect x="723" y="424" width="1" height="22" fill="#fff" />
<rect x="727" y="393" width="1" height="35" fill="#000" />
<rect x="726" y="404" width="3" height="23" fill="#000" />
<rect x="727" y="405" width="1" height="21" fill="#fff" />
<rect x="731" y="370" width="1" height="44" fill="#000" />
<rect x="730" y="377" width="3" height="29" fill="#000" />
<rect x="731" y="378" width="1" height="27" fill="#fff" />
<rect x="735" y="357" width="1" height="26" fill="#000" />
<rect x="734" y="376" width="3" height="3" fill="#000" />
<rect x="735" y="377" width="1" height="1" fill="#fff" />
<rect x="739" y="373" width="1" height="14" fill="#000" />
<rect x="738" y="374" width="3" height="12" fill="#000" />
<rect x="743" y="373" width="1" height="18" fill="#000" />
<rect x="742" y="377" width="3" height="6" fill="#000" />
<rect x="743" y="378" width="1" height="4" fill="#fff" />
<rect x="747" y="373" width="1" height="15" fill="#000" />
<rect x="746" y="376" width="3" height="4" fill="#000" />
<rect x="747" y="377" width="1" height="2" fill="#fff" />
<rect x="751" y="373" width="1" height="29" fill="#000" />
<rect x="750" y="374" width="3" height="26" fill="#000" />
<rect x="755" y="385" width="1" height="37" fill="#000" />
<rect x="754" y="398" width="3" height="4" fill="#000" />
<rect x="759" y="385" width="1" height="24" fill="#000" />
<rect x="758" y="399" width="3" height="6" fill="#000" />
<rect x="763" y="417" width="1" height="7" fill="#000" />
<rect x="762" y="418" width="3" height="4" fill="#000" />
<rect x="763" y="419" width="1" height="2" fill="#fff" />
<rect x="767" y="405" width="1" height="22" fill="#000" />
<rect x="766" y="416" width="3" height="3" fill="#000" />
<rect x="767" y="417" width="1" height="1" fill="#fff" />
<rect x="771" y="402" width="1" height="19" fill="#000" />
<rect x="770" y="404" width="3" height="14" fill="#000" />
<rect x="771" y="405" width="1" height="12" fill="#fff" />
<rect x="775" y="387" width="1" height="21" fill="#000" />
<rect x="774" y="395" width="3" height="11" fill="#000" />
<rect x="775" y="396" width="1" height="9" fill="#fff" />
<rect x="779" y="390" width="1" height="32" fill="#000" />
<rect x="778" y="393" width="3" height="21" fill="#000" />
<rect x="783" y="404" width="1" height="24" fill="#000" />
<rect x="782" y="411" width="3" height="2" fill="#000" />
<rect x="787" y="408" width="1" height="9" fill="#000" />
<rect x="786" y="411" width="3" height="2" fill="#000" />
<rect x="791" y="390" width="1" height="24" fill="#000" />
<rect x="790" y="399" width="3" height="13" fill="#000" />
<rect x="791" y="400" width="1" height="11" fill="#fff" />
<rect x="795" y="395" width="1" height="48" fill="#000" />
<rect x="794" y="399" width="3" height="38" fill="#000" />
<rect x="799" y="414" width="1" height="26" fill="#000" />
<rect x="798" y="421" width="3" height="16" fill="#000" />
<rect x="799" y="422" width="1" height="14" fill="#fff" />
<rect x="803" y="398" width="1" height="67" fill="#000" />
<rect x="802" y="421" width="3" height="26" fill="#000" />
<rect x="807" y="424" width="1" height="28" fill="#000" />
<rect x="806" y="427" width="3" height="20" fill="#000" />
<rect x="807" y="428" width="1" height="18" fill="#fff" />
<rect x="811" y="426" width="1" height="27" fill="#000" />
<rect x="810" y="427" width="3" height="25" fill="#000" />
<rect x="815" y="426" width="1" height="29" fill="#000" />
<rect x="814" y="438" width="3" height="14" fill="#000" />
<rect x="815" y="439" width="1" height="12" fill="#fff" />
<rect x="819" y="405" width="1" height="35" fill="#000" />
<rect x="818" y="407" width="3" height="32" fill="#000" />
<rect x="819" y="408" width="1" height="30" fill="#fff" />
<rect x="823" y="399" width="1" height="16" fill="#000" />
<rect x="822" y="408" width="3" height="2" fill="#000" />
<rect x="827" y="395" width="1" height="26" fill="#000" />
<rect x="826" y="401" width="3" height="10" fill="#000" />
<rect x="827" y="402" width="1" height="8" fill="#fff" />
<rect x="831" y="383" width="1" height="25" fill="#000" />
<rect x="830" y="392" width="3" height="10" fill="#000" />
<rect x="831" y="393" width="1" height="8" fill="#fff" />
<rect x="835" y="385" width="1" height="14" fill="#000" />
<rect x="834" y="392" width="3" height="5" fill="#000" />
<rect x="835" y="393" width="1" height="3" fill="#fff" />
<rect x="839" y="348" width="1" height="49" fill="#000" />
<rect x="838" y="359" width="3" height="37" fill="#000" />
<rect x="839" y="360" width="1" height="35" fill="#fff" />
<rect x="843" y="358" width="1" height="35" fill="#000" />
<rect x="842" y="359" width="3" height="16" fill="#000" />
<rect x="847" y="351" width="1" height="32" fill="#000" />
<rect x="846" y="361" width="3" height="14" fill="#000" />
<rect x="847" y="362" width="1" height="12" fill="#fff" />
<rect x="851" y="295" width="1" height="70" fill="#000" />
<rect x="850" y="324" width="3" height="38" fill="#000" />
<rect x="851" y="325" width="1" height="36" fill="#fff" />
<rect x="855" y="316" width="1" height="19" fill="#000" />
<rect x="854" y="317" width="3" height="8" fill="#000" />
<rect x="855" y="318" width="1" height="6" fill="#fff" />
<rect x="859" y="309" width="1" height="22" fill="#000" />
<rect x="858" y="312" width="3" height="7" fill="#000" />
<rect x="859" y="313" width="1" height="5" fill="#fff" />
<rect x="863" y="308" width="1" height="23" fill="#000" />
<rect x="862" y="312" width="3" height="3" fill="#000" />
<rect x="867" y="309" width="1" height="19" fill="#000" />
<rect x="866" y="312" width="3" height="12" fill="#000" />
<rect x="871" y="311" width="1" height="18" fill="#000" />
<rect x="870" y="317" width="3" height="7" fill="#000" />
<rect x="871" y="318" width="1" height="5" fill="#fff" />
<rect x="875" y="316" width="1" height="49" fill="#000" />
<rect x="874" y="317" width="3" height="26" fill="#000" />
<rect x="879" y="331" width="1" height="19" fill="#000" />
<rect x="878" y="333" width="3" height="10" fill="#000" />
<rect x="879" y="334" width="1" height="8" fill="#fff" />
<rect x="883" y="323" width="1" height="12" fill="#000" />
<rect x="882" y="326" width="3" height="7" fill="#000" />
<rect x="883" y="327" width="1" height="5" fill="#fff" />
<rect x="887" y="317" width="1" height="32" fill="#000" />
<rect x="886" y="326" width="3" height="9" fill="#000" />
<rect x="891" y="321" width="1" height="20" fill="#000" />
<rect x="890" y="324" width="3" height="11" fill="#000" />
<rect x="891" y="325" width="1" height="9" fill="#fff" />
<rect x="895" y="311" width="1" height="18" fill="#000" />
<rect x="894" y="323" width="3" height="4" fill="#000" />
<rect x="895" y="324" width="1" height="2" fill="#fff" />
<rect x="899" y="300" width="1" height="28" fill="#000" />
<rect x="898" y="303" width="3" height="22" fill="#000" />
<rect x="899" y="304" width="1" height="20" fill="#fff" />
<rect x="903" y="296" width="1" height="33" fill="#000" />
<rect x="902" y="298" width="3" height="6" fill="#000" />
<rect x="903" y="299" width="1" height="4" fill="#fff" />
<rect x="907" y="278" width="1" height="25" fill="#000" />
<rect x="906" y="281" width="3" height="18" fill="#000" />
<rect x="907" y="282" width="1" height="16" fill="#fff" />
<rect x="911" y="265" width="1" height="22" fill="#000" />
<rect x="910" y="272" width="3" height="10" fill="#000" />
<rect x="911" y="273" width="1" height="8" fill="#fff" />
<rect x="915" y="270" width="1" height="24" fill="#000" />
<rect x="914" y="272" width="3" height="13" fill="#000" />
<rect x="919" y="265" width="1" height="28" fill="#000" />
<rect x="918" y="278" width="3" height="7" fill="#000" />
<rect x="919" y="279" width="1" height="5" fill="#fff" />
<rect x="923" y="271" width="1" height="29" fill="#000" />
<rect x="922" y="279" width="3" height="2" fill="#000" />
<rect x="927" y="259" width="1" height="28" fill="#000" />
<rect x="926" y="260" width="3" height="21" fill="#000" />
<rect x="927" y="261" width="1" height="19" fill="#fff" />
<rect x="931" y="249" width="1" height="16" fill="#000" />
<rect x="930" y="252" width="3" height="10" fill="#000" />
<rect x="931" y="253" width="1" height="8" fill="#fff" />
<rect x="935" y="236" width="1" height="23" fill="#000" />
<rect x="934" y="238" width="3" height="15" fill="#000" />
<rect x="935" y="239" width="1" height="13" fill="#fff" />
<rect x="939" y="224" width="1" height="16" fill="#000" />
<rect x="938" y="229" width="3" height="10" fill="#000" />
<rect x="939" y="230" width="1" height="8" fill="#fff" />
<rect x="943" y="227" width="1" height="19" fill="#000" />
<rect x="942" y="229" width="3" height="10" fill="#000" />
<rect x="947" y="232" width="1" height="18" fill="#000" />
<rect x="946" y="233" width="3" height="6" fill="#000" />
<rect x="951" y="224" width="1" height="15" fill="#000" />
<rect x="950" y="226" width="3" height="12" fill="#000" />
<rect x="951" y="227" width="1" height="10" fill="#fff" />
<rect x="955" y="201" width="1" height="27" fill="#000" />
<rect x="954" y="202" width="3" height="25" fill="#000" />
<rect x="955" y="203" width="1" height="23" fill="#fff" />
<rect x="959" y="188" width="1" height="20" fill="#000" />
<rect x="958" y="196" width="3" height="10" fill="#000" />
<rect x="959" y="197" width="1" height="8" fill="#fff" />
<rect x="963" y="190" width="1" height="29" fill="#000" />
<rect x="962" y="196" width="3" height="22" fill="#000" />
<rect x="967" y="216" width="1" height="26" fill="#000" />
<rect x="966" y="217" width="3" height="19" fill="#000" />
<rect x="971" y="198" width="1" height="64" fill="#000" />
<rect x="970" y="210" width="3" height="26" fill="#000" />
<rect x="975" y="190" width="1" height="25" fill="#000" />
<rect x="974" y="191" width="3" height="20" fill="#000" />
<rect x="975" y="192" width="1" height="18" fill="#fff" />
<rect x="979" y="183" width="1" height="17" fill="#000" />
<rect x="978" y="186" width="3" height="6" fill="#000" />
<rect x="979" y="187" width="1" height="4" fill="#fff" />
<rect x="983" y="177" width="1" height="17" fill="#000" />
<rect x="982" y="186" width="3" height="3" fill="#000" />
<rect x="983" y="187" width="1" height="1" fill="#fff" />
<rect x="987" y="186" width="1" height="32" fill="#000" />
<rect x="986" y="188" width="3" height="24" fill="#000" />
<rect x="991" y="208" width="1" height="7" fill="#000" />
<rect x="990" y="210" width="3" height="3" fill="#000" />
<rect x="995" y="189" width="1" height="25" fill="#000" />
<rect x="994" y="192" width="3" height="20" fill="#000" />
<rect x="995" y="193" width="1" height="18" fill="#fff" />
<rect x="999" y="186" width="1" height="14" fill="#000" />
<rect x="998" y="191" width="3" height="2" fill="#000" />
<rect x="1003" y="225" width="1" height="12" fill="#000" />
<rect x="1002" y="227" width="3" height="9" fill="#000" />
<rect x="1007" y="222" width="1" height="42" fill="#000" />
<rect x="1006" y="224" width="3" height="10" fill="#000" />
<rect x="1007" y="225" width="1" height="8" fill="#fff" />
<rect x="1011" y="214" width="1" height="19" fill="#000" />
<rect x="1010" y="222" width="3" height="3" fill="#000" />
<rect x="1011" y="223" width="1" height="1" fill="#fff" />
<rect x="1015" y="214" width="1" height="31" fill="#000" />
<rect x="1014" y="223" width="3" height="8" fill="#000" />
<rect x="1019" y="210" width="1" height="24" fill="#000" />
<rect x="1018" y="211" width="3" height="20" fill="#000" />
<rect x="1019" y="212" width="1" height="18" fill="#fff" />
<rect x="1023" y="195" width="1" height="23" fill="#000" />
<rect x="1022" y="196" width="3" height="16" fill="#000" />
<rect x="1023" y="197" width="1" height="14" fill="#fff" />
<rect x="1027" y="185" width="1" height="15" fill="#000" />
<rect x="1026" y="190" width="3" height="7" fill="#000" />
<rect x="1027" y="191" width="1" height="5" fill="#fff" />
<rect x="1031" y="165" width="1" height="40" fill="#000" />
<rect x="1030" y="188" width="3" height="3" fill="#000" />
<rect x="1031" y="189" width="1" height="1" fill="#fff" />
<rect x="1035" y="179" width="1" height="16" fill="#000" />
<rect x="1034" y="188" width="3" height="6" fill="#000" />
<rect x="1039" y="179" width="1" height="15" fill="#000" />
<rect x="1038" y="190" width="3" height="4" fill="#000" />
<rect x="1043" y="167" width="1" height="30" fill="#000" />
<rect x="1042" y="190" width="3" height="4" fill="#000" />
<rect x="1043" y="191" width="1" height="2" fill="#fff" />
<rect x="1047" y="183" width="1" height="19" fill="#000" />
<rect x="1046" y="190" width="3" height="3" fill="#000" />
<rect x="1051" y="189" width="1" height="10" fill="#000" />
<rect x="1050" y="190" width="3" height="6" fill="#000" />
<rect x="1055" y="176" width="1" height="22" fill="#000" />
<rect x="1054" y="184" width="3" height="12" fill="#000" />
<rect x="1055" y="185" width="1" height="10" fill="#fff" />
<rect x="1059" y="179" width="1" height="10" fill="#000" />
<rect x="1058" y="184" width="3" height="2" fill="#000" />
<rect x="1063" y="183" width="1" height="6" fill="#000" />
<rect x="1062" y="185" width="3" height="2" fill="#000" />
<rect x="1067" y="179" width="1" height="12" fill="#000" />
<rect x="1066" y="186" width="3" height="2" fill="#000" />
<rect x="1071" y="152" width="1" height="44" fill="#000" />
<rect x="1070" y="157" width="3" height="32" fill="#000" />
<rect x="1071" y="158" width="1" height="30" fill="#fff" />
<rect x="1075" y="152" width="1" height="11" fill="#000" />
<rect x="1074" y="157" width="3" height="2" fill="#000" />
<rect x="1079" y="152" width="1" height="81" fill="#000" />
<rect x="1078" y="156" width="3" height="68" fill="#000" />
<rect x="1083" y="192" width="1" height="36" fill="#000" />
<rect x="1082" y="201" width="3" height="23" fill="#000" />
<rect x="1083" y="202" width="1" height="21" fill="#fff" />
<rect x="1087" y="199" width="1" height="19" fill="#000" />
<rect x="1086" y="201" width="3" height="11" fill="#000" />
<rect x="1091" y="198" width="1" height="17" fill="#000" />
<rect x="1090" y="207" width="3" height="7" fill="#000" />
<rect x="1091" y="208" width="1" height="5" fill="#fff" />
<rect x="1095" y="199" width="1" height="28" fill="#000" />
<rect x="1094" y="203" width="3" height="5" fill="#000" />
<rect x="1095" y="204" width="1" height="3" fill="#fff" />
<rect x="1099" y="198" width="1" height="8" fill="#000" />
<rect x="1098" y="200" width="3" height="4" fill="#000" />
<rect x="1099" y="201" width="1" height="2" fill="#fff" />
<rect x="1103" y="196" width="1" height="24" fill="#000" />
<rect x="1102" y="198" width="3" height="21" fill="#000" />
<rect x="1107" y="213" width="1" height="21" fill="#000" />
<rect x="1106" y="214" width="3" height="5" fill="#000" />
<rect x="1107" y="215" width="1" height="3" fill="#fff" />
<rect x="1111" y="205" width="1" height="17" fill="#000" />
<rect x="1110" y="212" width="3" height="5" fill="#000" />
<rect x="1111" y="213" width="1" height="3" fill="#fff" />
<rect x="1115" y="203" width="1" height="18" fill="#000" />
<rect x="1114" y="212" width="3" height="2" fill="#000" />
<rect x="1119" y="210" width="1" height="40" fill="#000" />
<rect x="1118" y="212" width="3" height="34" fill="#000" />
<rect x="1123" y="235" width="1" height="15" fill="#000" />
<rect x="1122" y="242" width="3" height="6" fill="#000" />
<rect x="1127" y="233" width="1" height="16" fill="#000" />
<rect x="1126" y="241" width="3" height="6" fill="#000" />
<rect x="1127" y="242" width="1" height="4" fill="#fff" />
<rect x="1131" y="232" width="1" height="33" fill="#000" />
<rect x="1130" y="241" width="3" height="22" fill="#000" />
<rect x="1135" y="258" width="1" height="29" fill="#000" />
<rect x="1134" y="260" width="3" height="10" fill="#000" />
<rect x="1139" y="257" width="1" height="26" fill="#000" />
<rect x="1138" y="265" width="3" height="5" fill="#000" />
<rect x="1139" y="266" width="1" height="3" fill="#fff" />
<rect x="1143" y="264" width="1" height="13" fill="#000" />
<rect x="1142" y="265" width="3" height="9" fill="#000" />
<rect x="1147" y="245" width="1" height="31" fill="#000" />
<rect x="1146" y="252" width="3" height="22" fill="#000" />
<rect x="1147" y="253" width="1" height="20" fill="#fff" />
<rect x="1151" y="242" width="1" height="23" fill="#000" />
<rect x="1150" y="251" width="3" height="10" fill="#000" />
<rect x="1155" y="247" width="1" height="17" fill="#000" />
<rect x="1154" y="254" width="3" height="7" fill="#000" />
<rect x="1159" y="230" width="1" height="26" fill="#000" />
<rect x="1158" y="242" width="3" height="13" fill="#000" />
<rect x="1159" y="243" width="1" height="11" fill="#fff" />
<rect x="1163" y="239" width="1" height="56" fill="#000" />
<rect x="1162" y="242" width="3" height="42" fill="#000" />
<rect x="1167" y="273" width="1" height="53" fill="#000" />
<rect x="1166" y="283" width="3" height="35" fill="#000" />
<rect x="1171" y="299" width="1" height="24" fill="#000" />
<rect x="1170" y="301" width="3" height="17" fill="#000" />
<rect x="1171" y="302" width="1" height="15" fill="#fff" />
<rect x="1175" y="272" width="1" height="49" fill="#000" />
<rect x="1174" y="284" width="3" height="18" fill="#000" />
<rect x="1175" y="285" width="1" height="16" fill="#fff" />
<rect x="1179" y="272" width="1" height="20" fill="#000" />
<rect x="1178" y="284" width="3" height="5" fill="#000" />
<rect x="1183" y="271" width="1" height="22" fill="#000" />
<rect x="1182" y="274" width="3" height="15" fill="#000" />
<rect x="1183" y="275" width="1" height="13" fill="#fff" />
<rect x="1187" y="224" width="1" height="53" fill="#000" />
<rect x="1186" y="232" width="3" height="44" fill="#000" />
<rect x="1187" y="233" width="1" height="42" fill="#fff" />
<rect x="1191" y="220" width="1" height="17" fill="#000" />
<rect x="1190" y="231" width="3" height="3" fill="#000" />
<rect x="1195" y="229" width="1" height="15" fill="#000" />
<rect x="1194" y="231" width="3" height="12" fill="#000" />
<rect x="1199" y="236" width="1" height="17" fill="#000" />
<rect x="1198" y="241" width="3" height="4" fill="#000" />
<rect x="1203" y="239" width="1" height="16" fill="#000" />
<rect x="1202" y="242" width="3" height="5" fill="#000" />
<rect x="1203" y="243" width="1" height="3" fill="#fff" />
<rect x="1207" y="241" width="1" height="18" fill="#000" />
<rect x="1206" y="242" width="3" height="4" fill="#000" />
<rect x="1211" y="238" width="1" height="35" fill="#000" />
<rect x="1210" y="243" width="3" height="2" fill="#000" />
<rect x="1215" y="211" width="1" height="35" fill="#000" />
<rect x="1214" y="219" width="3" height="26" fill="#000" />
<rect x="1215" y="220" width="1" height="24" fill="#fff" />
<rect x="1219" y="217" width="1" height="21" fill="#000" />
<rect x="1218" y="218" width="3" height="19" fill="#000" />
<rect x="1223" y="230" width="1" height="16" fill="#000" />
<rect x="1222" y="236" width="3" height="9" fill="#000" />
<rect x="1227" y="221" width="1" height="27" fill="#000" />
<rect x="1226" y="224" width="3" height="21" fill="#000" />
<rect x="1227" y="225" width="1" height="19" fill="#fff" />
<rect x="1231" y="188" width="1" height="39" fill="#000" />
<rect x="1230" y="196" width="3" height="29" fill="#000" />
<rect x="1231" y="197" width="1" height="27" fill="#fff" />
<rect x="1235" y="186" width="1" height="45" fill="#000" />
<rect x="1234" y="196" width="3" height="5" fill="#000" />
<rect x="1239" y="196" width="1" height="35" fill="#000" />
<rect x="1238" y="199" width="3" height="31" fill="#000" />
<rect x="1243" y="211" width="1" height="11" fill="#000" />
<rect x="1242" y="213" width="3" height="8" fill="#000" />
<rect x="1243" y="214" width="1" height="6" fill="#fff" />
<rect x="1247" y="205" width="1" height="12" fill="#000" />
<rect x="1246" y="212" width="3" height="2" fill="#000" />
<rect x="1251" y="210" width="1" height="27" fill="#000" />
<rect x="1250" y="213" width="3" height="11" fill="#000" />
<rect x="1255" y="210" width="1" height="15" fill="#000" />
<rect x="1254" y="211" width="3" height="13" fill="#000" />
<rect x="1255" y="212" width="1" height="11" fill="#fff" />
<rect x="1259" y="189" width="1" height="28" fill="#000" />
<rect x="1258" y="193" width="3" height="20" fill="#000" />
<rect x="1259" y="194" width="1" height="18" fill="#fff" />
<rect x="1263" y="186" width="1" height="16" fill="#000" />
<rect x="1262" y="193" width="3" height="3" fill="#000" />
<rect x="1267" y="190" width="1" height="13" fill="#000" />
<rect x="1266" y="193" width="3" height="9" fill="#000" />
<rect x="1271" y="176" width="1" height="27" fill="#000" />
<rect x="1270" y="177" width="3" height="25" fill="#000" />
<rect x="1271" y="178" width="1" height="23" fill="#fff" />
<rect x="1275" y="157" width="1" height="33" fill="#000" />
<rect x="1274" y="167" width="3" height="13" fill="#000" />
<rect x="1275" y="168" width="1" height="11" fill="#fff" />
<rect x="1279" y="153" width="1" height="30" fill="#000" />
<rect x="1278" y="165" width="3" height="4" fill="#000" />
<rect x="1279" y="166" width="1" height="2" fill="#fff" />
<rect x="1283" y="155" width="1" height="93" fill="#000" />
<rect x="1282" y="166" width="3" height="74" fill="#000" />
<rect x="1287" y="232" width="1" height="18" fill="#000" />
<rect x="1286" y="239" width="3" height="2" fill="#000" />
<rect x="1291" y="233" width="1" height="10" fill="#000" />
<rect x="1290" y="236" width="3" height="6" fill="#000" />
<rect x="1291" y="237" width="1" height="4" fill="#fff" />
<rect x="1295" y="218" width="1" height="30" fill="#000" />
<rect x="1294" y="221" width="3" height="15" fill="#000" />
<rect x="1295" y="222" width="1" height="13" fill="#fff" />
<rect x="1299" y="218" width="1" height="41" fill="#000" />
<rect x="1298" y="220" width="3" height="25" fill="#000" />
<rect x="1303" y="238" width="1" height="26" fill="#000" />
<rect x="1302" y="242" width="3" height="19" fill="#000" />
<rect x="1307" y="252" width="1" height="53" fill="#000" />
<rect x="1306" y="258" width="3" height="40" fill="#000" />
<rect x="1311" y="291" width="1" height="17" fill="#000" />
<rect x="1310" y="296" width="3" height="2" fill="#000" />
<rect x="1315" y="295" width="1" height="12" fill="#000" />
<rect x="1314" y="297" width="3" height="6" fill="#000" />
<rect x="1319" y="298" width="1" height="28" fill="#000" />
<rect x="1318" y="301" width="3" height="2" fill="#000" />
<rect x="1323" y="286" width="1" height="22" fill="#000" />
<rect x="1322" y="294" width="3" height="10" fill="#000" />
<rect x="1323" y="295" width="1" height="8" fill="#fff" />
<rect x="1327" y="289" width="1" height="48" fill="#000" />
<rect x="1326" y="294" width="3" height="36" fill="#000" />
<rect x="1331" y="328" width="1" height="51" fill="#000" />
<rect x="1330" y="329" width="3" height="20" fill="#000" />
<rect x="1335" y="325" width="1" height="25" fill="#000" />
<rect x="1334" y="335" width="3" height="14" fill="#000" />
<rect x="1335" y="336" width="1" height="12" fill="#fff" />
<rect x="1339" y="328" width="1" height="14" fill="#000" />
<rect x="1338" y="336" width="3" height="4" fill="#000" />
<rect x="1343" y="331" width="1" height="21" fill="#000" />
<rect x="1342" y="338" width="3" height="10" fill="#000" />
<rect x="1347" y="336" width="1" height="18" fill="#000" />
<rect x="1346" y="345" width="3" height="5" fill="#000" />
<rect x="1351" y="345" width="1" height="17" fill="#000" />
<rect x="1350" y="346" width="3" height="8" fill="#000" />
<rect x="1355" y="305" width="1" height="68" fill="#000" />
<rect x="1354" y="330" width="3" height="24" fill="#000" />
<rect x="1355" y="331" width="1" height="22" fill="#fff" />
<rect x="1359" y="328" width="1" height="15" fill="#000" />
<rect x="1358" y="330" width="3" height="7" fill="#000" />
<rect x="0" y="213" width="1" height="26" fill="#000" />
<rect x="1303" y="307" width="75" height="13" fill="#00F800" />
</g>
<g shape-rendering="crispEdges">
<rect x="-2" y="254" width="6" height="6" fill="#FF0000" />
<rect x="0" y="256" width="2" height="2" fill="#fff" />
<rect x="1621" y="254" width="6" height="6" fill="#FF0000" />
<rect x="1623" y="256" width="2" height="2" fill="#fff" />
<rect x="-2" y="279" width="6" height="6" fill="#FF0000" />
<rect x="0" y="281" width="2" height="2" fill="#fff" />
<rect x="1621" y="279" width="6" height="6" fill="#FF0000" />
<rect x="1623" y="281" width="2" height="2" fill="#fff" />
<rect x="-2" y="312" width="6" height="6" fill="#32CD32" />
<rect x="0" y="314" width="2" height="2" fill="#fff" />
<rect x="1621" y="312" width="6" height="6" fill="#32CD32" />
<rect x="1623" y="314" width="2" height="2" fill="#fff" />
<rect x="-2" y="396" width="6" height="6" fill="#0000FF" />
<rect x="0" y="398" width="2" height="2" fill="#fff" />
<rect x="1621" y="396" width="6" height="6" fill="#0000FF" />
<rect x="1623" y="398" width="2" height="2" fill="#fff" />
</g>
<g clip-path="url(#c2)" shape-rendering="crispEdges">
<rect x="3" y="646" width="1" height="14" fill="#C0C0C0" />
<rect x="7" y="646" width="1" height="16" fill="#C0C0C0" />
<rect x="11" y="646" width="1" height="18" fill="#C0C0C0" />
<rect x="15" y="646" width="1" height="25" fill="#C0C0C0" />
<rect x="19" y="646" width="1" height="29" fill="#C0C0C0" />
<rect x="23" y="646" width="1" height="30" fill="#C0C0C0" />
<rect x="27" y="646" width="1" height="29" fill="#C0C0C0" />
<rect x="31" y="646" width="1" height="28" fill="#C0C0C0" />
<rect x="35" y="646" width="1" height="25" fill="#C0C0C0" />
<rect x="39" y="646" width="1" height="23" fill="#C0C0C0" />
<rect x="43" y="646" width="1" height="20" fill="#C0C0C0" />
<rect x="47" y="646" width="1" height="16" fill="#C0C0C0" />
<rect x="51" y="646" width="1" height="14" fill="#C0C0C0" />
<rect x="55" y="646" width="1" height="11" fill="#C0C0C0" />
<rect x="59" y="646" width="1" height="9" fill="#C0C0C0" />
<rect x="63" y="646" width="1" height="8" fill="#C0C0C0" />
<rect x="67" y="646" width="1" height="7" fill="#C0C0C0" />
<rect x="71" y="646" width="1" height="4" fill="#C0C0C0" />
<rect x="75" y="645" width="1" height="2" fill="#C0C0C0" />
<rect x="79" y="643" width="1" height="4" fill="#C0C0C0" />
<rect x="83" y="641" width="1" height="6" fill="#C0C0C0" />
<rect x="87" y="638" width="1" height="9" fill="#C0C0C0" />
<rect x="91" y="636" width="1" height="11" fill="#C0C0C0" />
<rect x="95" y="635" width="1" height="12" fill="#C0C0C0" />
<rect x="99" y="636" width="1" height="11" fill="#C0C0C0" />
<rect x="103" y="637" width="1" height="10" fill="#C0C0C0" />
<rect x="107" y="637" width="1" height="10" fill="#C0C0C0" />
<rect x="111" y="636" width="1" height="11" fill="#C0C0C0" />
<rect x="115" y="635" width="1" height="12" fill="#C0C0C0" />
<rect x="119" y="635" width="1" height="12" fill="#C0C0C0" />
<rect x="123" y="637" width="1" height="10" fill="#C0C0C0" />
<rect x="127" y="637" width="1" height="10" fill="#C0C0C0" />
<rect x="131" y="631" width="1" height="16" fill="#C0C0C0" />
<rect x="135" y="625" width="1" height="22" fill="#C0C0C0" />
<rect x="139" y="622" width="1" height="25" fill="#C0C0C0" />
<rect x="143" y="620" width="1" height="27" fill="#C0C0C0" />
<rect x="147" y="619" width="1" height="28" fill="#C0C0C0" />
<rect x="151" y="617" width="1" height="30" fill="#C0C0C0" />
<rect x="155" y="616" width="1" height="31" fill="#C0C0C0" />
<rect x="159" y="616" width="1" height="31" fill="#C0C0C0" />
<rect x="163" y="616" width="1" height="31" fill="#C0C0C0" />
<rect x="167" y="619" width="1" height="28" fill="#C0C0C0" />
<rect x="171" y="619" width="1" height="28" fill="#C0C0C0" />
<rect x="175" y="620" width="1" height="27" fill="#C0C0C0" />
<rect x="179" y="619" width="1" height="28" fill="#C0C0C0" />
<rect x="183" y="618" width="1" height="29" fill="#C0C0C0" />
<rect x="187" y="618" width="1" height="29" fill="#C0C0C0" />
<rect x="191" y="620" width="1" height="27" fill="#C0C0C0" />
<rect x="195" y="622" width="1" height="25" fill="#C0C0C0" />
<rect x="199" y="626" width="1" height="21" fill="#C0C0C0" />
<rect x="203" y="628" width="1" height="19" fill="#C0C0C0" />
<rect x="207" y="629" width="1" height="18" fill="#C0C0C0" />
<rect x="211" y="632" width="1" height="15" fill="#C0C0C0" />
<rect x="215" y="633" width="1" height="14" fill="#C0C0C0" />
<rect x="219" y="635" width="1" height="12" fill="#C0C0C0" />
<rect x="223" y="636" width="1" height="11" fill="#C0C0C0" />
<rect x="227" y="637" width="1" height="10" fill="#C0C0C0" />
<rect x="231" y="635" width="1" height="12" fill="#C0C0C0" />
<rect x="235" y="634" width="1" height="13" fill="#C0C0C0" />
<rect x="239" y="627" width="1" height="20" fill="#C0C0C0" />
<rect x="243" y="623" width="1" height="24" fill="#C0C0C0" />
<rect x="247" y="623" width="1" height="24" fill="#C0C0C0" />
<rect x="251" y="632" width="1" height="15" fill="#C0C0C0" />
<rect x="255" y="646" width="1" height="7" fill="#C0C0C0" />
<rect x="259" y="646" width="1" height="20" fill="#C0C0C0" />
<rect x="263" y="646" width="1" height="36" fill="#C0C0C0" />
<rect x="267" y="646" width="1" height="50" fill="#C0C0C0" />
<rect x="271" y="646" width="1" height="61" fill="#C0C0C0" />
<rect x="275" y="646" width="1" height="71" fill="#C0C0C0" />
<rect x="279" y="646" width="1" height="80" fill="#C0C0C0" />
<rect x="283" y="646" width="1" height="86" fill="#C0C0C0" />
<rect x="287" y="646" width="1" height="97" fill="#C0C0C0" />
<rect x="291" y="646" width="1" height="105" fill="#C0C0C0" />
<rect x="295" y="646" width="1" height="108" fill="#C0C0C0" />
<rect x="299" y="646" width="1" height="110" fill="#C0C0C0" />
<rect x="303" y="646" width="1" height="109" fill="#C0C0C0" />
<rect x="307" y="646" width="1" height="114" fill="#C0C0C0" />
<rect x="311" y="646" width="1" height="105" fill="#C0C0C0" />
<rect x="315" y="646" width="1" height="98" fill="#C0C0C0" />
<rect x="319" y="646" width="1" height="90" fill="#C0C0C0" />
<rect x="323" y="646" width="1" height="83" fill="#C0C0C0" />
<rect x="327" y="646" width="1" height="76" fill="#C0C0C0" />
<rect x="331" y="646" width="1" height="73" fill="#C0C0C0" />
<rect x="335" y="646" width="1" height="72" fill="#C0C0C0" />
<rect x="339" y="646" width="1" height="68" fill="#C0C0C0" />
<rect x="343" y="646" width="1" height="70" fill="#C0C0C0" />
<rect x="347" y="646" width="1" height="73" fill="#C0C0C0" />
<rect x="351" y="646" width="1" height="68" fill="#C0C0C0" />
<rect x="355" y="646" width="1" height="64" fill="#C0C0C0" />
<rect x="359" y="646" width="1" height="59" fill="#C0C0C0" />
<rect x="363" y="646" width="1" height="56" fill="#C0C0C0" />
<rect x="367" y="646" width="1" height="54" fill="#C0C0C0" />
<rect x="371" y="646" width="1" height="52" fill="#C0C0C0" />
<rect x="375" y="646" width="1" height="50" fill="#C0C0C0" />
<rect x="379" y="646" width="1" height="49" fill="#C0C0C0" />
<rect x="383" y="646" width="1" height="46" fill="#C0C0C0" />
<rect x="387" y="646" width="1" height="44" fill="#C0C0C0" />
<rect x="391" y="646" width="1" height="45" fill="#C0C0C0" />
<rect x="395" y="646" width="1" height="51" fill="#C0C0C0" />
<rect x="399" y="646" width="1" height="51" fill="#C0C0C0" />
<rect x="403" y="646" width="1" height="54" fill="#C0C0C0" />
<rect x="407" y="646" width="1" height="54" fill="#C0C0C0" />
<rect x="411" y="646" width="1" height="53" fill="#C0C0C0" />
<rect x="415" y="646" width="1" height="57" fill="#C0C0C0" />
<rect x="419" y="646" width="1" height="55" fill="#C0C0C0" />
<rect x="423" y="646" width="1" height="55" fill="#C0C0C0" />
<rect x="427" y="646" width="1" height="53" fill="#C0C0C0" />
<rect x="431" y="646" width="1" height="49" fill="#C0C0C0" />
<rect x="435" y="646" width="1" height="50" fill="#C0C0C0" />
<rect x="439" y="646" width="1" height="49" fill="#C0C0C0" />
<rect x="443" y="646" width="1" height="30" fill="#C0C0C0" />
<rect x="447" y="646" width="1" height="14" fill="#C0C0C0" />
<rect x="451" y="646" width="1" height="2" fill="#C0C0C0" />
<rect x="455" y="640" width="1" height="7" fill="#C0C0C0" />
<rect x="459" y="635" width="1" height="12" fill="#C0C0C0" />
<rect x="463" y="638" width="1" height="9" fill="#C0C0C0" />
<rect x="467" y="641" width="1" height="6" fill="#C0C0C0" />
<rect x="471" y="642" width="1" height="5" fill="#C0C0C0" />
<rect x="475" y="643" width="1" height="4" fill="#C0C0C0" />
<rect x="479" y="644" width="1" height="3" fill="#C0C0C0" />
<rect x="483" y="641" width="1" height="6" fill="#C0C0C0" />
<rect x="487" y="640" width="1" height="7" fill="#C0C0C0" />
<rect x="491" y="639" width="1" height="8" fill="#C0C0C0" />
<rect x="495" y="639" width="1" height="8" fill="#C0C0C0" />
<rect x="499" y="639" width="1" height="8" fill="#C0C0C0" />
<rect x="503" y="637" width="1" height="10" fill="#C0C0C0" />
<rect x="507" y="637" width="1" height="10" fill="#C0C0C0" />
<rect x="511" y="635" width="1" height="12" fill="#C0C0C0" />
<rect x="515" y="633" width="1" height="14" fill="#C0C0C0" />
<rect x="519" y="632" width="1" height="15" fill="#C0C0C0" />
<rect x="523" y="630" width="1" height="17" fill="#C0C0C0" />
<rect x="527" y="629" width="1" height="18" fill="#C0C0C0" />
<rect x="531" y="628" width="1" height="19" fill="#C0C0C0" />
<rect x="535" y="625" width="1" height="22" fill="#C0C0C0" />
<rect x="539" y="624" width="1" height="23" fill="#C0C0C0" />
<rect x="543" y="622" width="1" height="25" fill="#C0C0C0" />
<rect x="547" y="621" width="1" height="26" fill="#C0C0C0" />
<rect x="551" y="621" width="1" height="26" fill="#C0C0C0" />
<rect x="555" y="623" width="1" height="24" fill="#C0C0C0" />
<rect x="559" y="626" width="1" height="21" fill="#C0C0C0" />
<rect x="563" y="628" width="1" height="19" fill="#C0C0C0" />
<rect x="567" y="632" width="1" height="15" fill="#C0C0C0" />
<rect x="571" y="635" width="1" height="12" fill="#C0C0C0" />
<rect x="575" y="633" width="1" height="14" fill="#C0C0C0" />
<rect x="579" y="633" width="1" height="14" fill="#C0C0C0" />
<rect x="583" y="633" width="1" height="14" fill="#C0C0C0" />
<rect x="587" y="632" width="1" height="15" fill="#C0C0C0" />
<rect x="591" y="631" width="1" height="16" fill="#C0C0C0" />
<rect x="595" y="630" width="1" height="17" fill="#C0C0C0" />
<rect x="599" y="632" width="1" height="15" fill="#C0C0C0" />
<rect x="603" y="634" width="1" height="13" fill="#C0C0C0" />
<rect x="607" y="633" width="1" height="14" fill="#C0C0C0" />
<rect x="611" y="634" width="1" height="13" fill="#C0C0C0" />
<rect x="615" y="636" width="1" height="11" fill="#C0C0C0" />
<rect x="619" y="637" width="1" height="10" fill="#C0C0C0" />
<rect x="623" y="636" width="1" height="11" fill="#C0C0C0" />
<rect x="627" y="635" width="1" height="12" fill="#C0C0C0" />
<rect x="631" y="633" width="1" height="14" fill="#C0C0C0" />
<rect x="635" y="646" width="1" height="6" fill="#C0C0C0" />
<rect x="639" y="646" width="1" height="19" fill="#C0C0C0" />
<rect x="643" y="646" width="1" height="35" fill="#C0C0C0" />
<rect x="647" y="646" width="1" height="40" fill="#C0C0C0" />
<rect x="651" y="646" width="1" height="39" fill="#C0C0C0" />
<rect x="655" y="646" width="1" height="36" fill="#C0C0C0" />
<rect x="659" y="646" width="1" height="32" fill="#C0C0C0" />
<rect x="663" y="646" width="1" height="26" fill="#C0C0C0" />
<rect x="667" y="646" width="1" height="24" fill="#C0C0C0" />
<rect x="671" y="646" width="1" height="26" fill="#C0C0C0" />
<rect x="675" y="646" width="1" height="26" fill="#C0C0C0" />
<rect x="679" y="646" width="1" height="26" fill="#C0C0C0" />
<rect x="683" y="646" width="1" height="25" fill="#C0C0C0" />
<rect x="687" y="646" width="1" height="24" fill="#C0C0C0" />
<rect x="691" y="646" width="1" height="24" fill="#C0C0C0" />
<rect x="695" y="646" width="1" height="22" fill="#C0C0C0" />
<rect x="699" y="646" width="1" height="21" fill="#C0C0C0" />
<rect x="703" y="646" width="1" height="21" fill="#C0C0C0" />
<rect x="707" y="646" width="1" height="19" fill="#C0C0C0" />
<rect x="711" y="646" width="1" height="13" fill="#C0C0C0" />
<rect x="715" y="646" width="1" height="9" fill="#C0C0C0" />
<rect x="719" y="646" width="1" height="8" fill="#C0C0C0" />
<rect x="723" y="646" width="1" height="5" fill="#C0C0C0" />
<rect x="727" y="646" width="1" height="1" fill="#C0C0C0" />
<rect x="731" y="639" width="1" height="8" fill="#C0C0C0" />
<rect x="735" y="634" width="1" height="13" fill="#C0C0C0" />
<rect x="739" y="631" width="1" height="16" fill="#C0C0C0" />
<rect x="743" y="627" width="1" height="20" fill="#C0C0C0" />
<rect x="747" y="625" width="1" height="22" fill="#C0C0C0" />
<rect x="751" y="626" width="1" height="21" fill="#C0C0C0" />
<rect x="755" y="627" width="1" height="20" fill="#C0C0C0" />
<rect x="759" y="629" width="1" height="18" fill="#C0C0C0" />
<rect x="763" y="632" width="1" height="15" fill="#C0C0C0" />
<rect x="767" y="634" width="1" height="13" fill="#C0C0C0" />
<rect x="771" y="635" width="1" height="12" fill="#C0C0C0" />
<rect x="775" y="634" width="1" height="13" fill="#C0C0C0" />
<rect x="779" y="636" width="1" height="11" fill="#C0C0C0" />
<rect x="783" y="638" width="1" height="9" fill="#C0C0C0" />
<rect x="787" y="639" width="1" height="8" fill="#C0C0C0" />
<rect x="791" y="638" width="1" height="9" fill="#C0C0C0" />
<rect x="795" y="642" width="1" height="5" fill="#C0C0C0" />
<rect x="799" y="644" width="1" height="3" fill="#C0C0C0" />
<rect x="803" y="646" width="1" height="3" fill="#C0C0C0" />
<rect x="807" y="646" width="1" height="4" fill="#C0C0C0" />
<rect x="811" y="646" width="1" height="7" fill="#C0C0C0" />
<rect x="815" y="646" width="1" height="9" fill="#C0C0C0" />
<rect x="819" y="646" width="1" height="6" fill="#C0C0C0" />
<rect x="823" y="646" width="1" height="4" fill="#C0C0C0" />
<rect x="827" y="646" width="1" height="1" fill="#C0C0C0" />
<rect x="831" y="643" width="1" height="4" fill="#C0C0C0" />
<rect x="835" y="641" width="1" height="6" fill="#C0C0C0" />
<rect x="839" y="636" width="1" height="11" fill="#C0C0C0" />
<rect x="843" y="633" width="1" height="14" fill="#C0C0C0" />
<rect x="847" y="630" width="1" height="17" fill="#C0C0C0" />
<rect x="851" y="623" width="1" height="24" fill="#C0C0C0" />
<rect x="855" y="618" width="1" height="29" fill="#C0C0C0" />
<rect x="859" y="613" width="1" height="34" fill="#C0C0C0" />
<rect x="863" y="610" width="1" height="37" fill="#C0C0C0" />
<rect x="867" y="609" width="1" height="38" fill="#C0C0C0" />
<rect x="871" y="608" width="1" height="39" fill="#C0C0C0" />
<rect x="875" y="610" width="1" height="37" fill="#C0C0C0" />
<rect x="879" y="611" width="1" height="36" fill="#C0C0C0" />
<rect x="883" y="612" width="1" height="35" fill="#C0C0C0" />
<rect x="887" y="614" width="1" height="33" fill="#C0C0C0" />
<rect x="891" y="615" width="1" height="32" fill="#C0C0C0" />
<rect x="895" y="615" width="1" height="32" fill="#C0C0C0" />
<rect x="899" y="614" width="1" height="33" fill="#C0C0C0" />
<rect x="903" y="613" width="1" height="34" fill="#C0C0C0" />
<rect x="907" y="610" width="1" height="37" fill="#C0C0C0" />
<rect x="911" y="608" width="1" height="39" fill="#C0C0C0" />
<rect x="915" y="607" width="1" height="40" fill="#C0C0C0" />
<rect x="919" y="607" width="1" height="40" fill="#C0C0C0" />
<rect x="923" y="607" width="1" height="40" fill="#C0C0C0" />
<rect x="927" y="606" width="1" height="41" fill="#C0C0C0" />
<rect x="931" y="604" width="1" height="43" fill="#C0C0C0" />
<rect x="935" y="601" width="1" height="46" fill="#C0C0C0" />
<rect x="939" y="599" width="1" height="48" fill="#C0C0C0" />
<rect x="943" y="599" width="1" height="48" fill="#C0C0C0" />
<rect x="947" y="599" width="1" height="48" fill="#C0C0C0" />
<rect x="951" y="598" width="1" height="49" fill="#C0C0C0" />
<rect x="955" y="596" width="1" height="51" fill="#C0C0C0" />
<rect x="959" y="593" width="1" height="54" fill="#C0C0C0" />
<rect x="963" y="595" width="1" height="52" fill="#C0C0C0" />
<rect x="967" y="598" width="1" height="49" fill="#C0C0C0" />
<rect x="971" y="602" width="1" height="45" fill="#C0C0C0" />
<rect x="975" y="600" width="1" height="47" fill="#C0C0C0" />
<rect x="979" y="598" width="1" height="49" fill="#C0C0C0" />
<rect x="983" y="598" width="1" height="49" fill="#C0C0C0" />
<rect x="987" y="601" width="1" height="46" fill="#C0C0C0" />
<rect x="991" y="604" width="1" height="43" fill="#C0C0C0" />
<rect x="995" y="604" width="1" height="43" fill="#C0C0C0" />
<rect x="999" y="605" width="1" height="42" fill="#C0C0C0" />
<rect x="1003" y="611" width="1" height="36" fill="#C0C0C0" />
<rect x="1007" y="615" width="1" height="32" fill="#C0C0C0" />
<rect x="1011" y="618" width="1" height="29" fill="#C0C0C0" />
<rect x="1015" y="622" width="1" height="25" fill="#C0C0C0" />
<rect x="1019" y="623" width="1" height="24" fill="#C0C0C0" />
<rect x="1023" y="622" width="1" height="25" fill="#C0C0C0" />
<rect x="1027" y="621" width="1" height="26" fill="#C0C0C0" />
<rect x="1031" y="621" width="1" height="26" fill="#C0C0C0" />
<rect x="1035" y="621" width="1" height="26" fill="#C0C0C0" />
<rect x="1039" y="621" width="1" height="26" fill="#C0C0C0" />
<rect x="1043" y="622" width="1" height="25" fill="#C0C0C0" />
<rect x="1047" y="623" width="1" height="24" fill="#C0C0C0" />
<rect x="1051" y="624" width="1" height="23" fill="#C0C0C0" />
<rect x="1055" y="624" width="1" height="23" fill="#C0C0C0" />
<rect x="1059" y="624" width="1" height="23" fill="#C0C0C0" />
<rect x="1063" y="625" width="1" height="22" fill="#C0C0C0" />
<rect x="1067" y="626" width="1" height="21" fill="#C0C0C0" />
<rect x="1071" y="623" width="1" height="24" fill="#C0C0C0" />
<rect x="1075" y="621" width="1" height="26" fill="#C0C0C0" />
<rect x="1079" y="628" width="1" height="19" fill="#C0C0C0" />
<rect x="1083" y="631" width="1" height="16" fill="#C0C0C0" />
<rect x="1087" y="634" width="1" height="13" fill="#C0C0C0" />
<rect x="1091" y="637" width="1" height="10" fill="#C0C0C0" />
<rect x="1095" y="638" width="1" height="9" fill="#C0C0C0" />
<rect x="1099" y="639" width="1" height="8" fill="#C0C0C0" />
<rect x="1103" y="642" width="1" height="5" fill="#C0C0C0" />
<rect x="1107" y="644" width="1" height="3" fill="#C0C0C0" />
<rect x="1111" y="645" width="1" height="2" fill="#C0C0C0" />
<rect x="1115" y="646" width="1" height="1" fill="#C0C0C0" />
<rect x="1119" y="646" width="1" height="6" fill="#C0C0C0" />
<rect x="1123" y="646" width="1" height="9" fill="#C0C0C0" />
<rect x="1127" y="646" width="1" height="12" fill="#C0C0C0" />
<rect x="1131" y="646" width="1" height="16" fill="#C0C0C0" />
<rect x="1135" y="646" width="1" height="19" fill="#C0C0C0" />
<rect x="1139" y="646" width="1" height="22" fill="#C0C0C0" />
<rect x="1143" y="646" width="1" height="24" fill="#C0C0C0" />
<rect x="1147" y="646" width="1" height="23" fill="#C0C0C0" />
<rect x="1151" y="646" width="1" height="23" fill="#C0C0C0" />
<rect x="1155" y="646" width="1" height="23" fill="#C0C0C0" />
<rect x="1159" y="646" width="1" height="21" fill="#C0C0C0" />
<rect x="1163" y="646" width="1" height="23" fill="#C0C0C0" />
<rect x="1167" y="646" width="1" height="29" fill="#C0C0C0" />
<rect x="1171" y="646" width="1" height="31" fill="#C0C0C0" />
<rect x="1175" y="646" width="1" height="31" fill="#C0C0C0" />
<rect x="1179" y="646" width="1" height="30" fill="#C0C0C0" />
<rect x="1183" y="646" width="1" height="28" fill="#C0C0C0" />
<rect x="1187" y="646" width="1" height="21" fill="#C0C0C0" />
<rect x="1191" y="646" width="1" height="16" fill="#C0C0C0" />
<rect x="1195" y="646" width="1" height="12" fill="#C0C0C0" />
<rect x="1199" y="646" width="1" height="10" fill="#C0C0C0" />
<rect x="1203" y="646" width="1" height="8" fill="#C0C0C0" />
<rect x="1207" y="646" width="1" height="6" fill="#C0C0C0" />
<rect x="1211" y="646" width="1" height="5" fill="#C0C0C0" />
<rect x="1215" y="646" width="1" height="1" fill="#C0C0C0" />
<rect x="1219" y="644" width="1" height="3" fill="#C0C0C0" />
<rect x="1223" y="644" width="1" height="3" fill="#C0C0C0" />
<rect x="1227" y="642" width="1" height="5" fill="#C0C0C0" />
<rect x="1231" y="637" width="1" height="10" fill="#C0C0C0" />
<rect x="1235" y="634" width="1" height="13" fill="#C0C0C0" />
<rect x="1239" y="635" width="1" height="12" fill="#C0C0C0" />
<rect x="1243" y="634" width="1" height="13" fill="#C0C0C0" />
<rect x="1247" y="633" width="1" height="14" fill="#C0C0C0" />
<rect x="1251" y="634" width="1" height="13" fill="#C0C0C0" />
<rect x="1255" y="633" width="1" height="14" fill="#C0C0C0" />
<rect x="1259" y="631" width="1" height="16" fill="#C0C0C0" />
<rect x="1263" y="630" width="1" height="17" fill="#C0C0C0" />
<rect x="1267" y="629" width="1" height="18" fill="#C0C0C0" />
<rect x="1271" y="627" width="1" height="20" fill="#C0C0C0" />
<rect x="1275" y="623" width="1" height="24" fill="#C0C0C0" />
<rect x="1279" y="621" width="1" height="26" fill="#C0C0C0" />
<rect x="1283" y="628" width="1" height="19" fill="#C0C0C0" />
<rect x="1287" y="634" width="1" height="13" fill="#C0C0C0" />
<rect x="1291" y="638" width="1" height="9" fill="#C0C0C0" />
<rect x="1295" y="639" width="1" height="8" fill="#C0C0C0" />
<rect x="1299" y="643" width="1" height="4" fill="#C0C0C0" />
<rect x="1303" y="646" width="1" height="3" fill="#C0C0C0" />
<rect x="1307" y="646" width="1" height="11" fill="#C0C0C0" />
<rect x="1311" y="646" width="1" height="18" fill="#C0C0C0" />
<rect x="1315" y="646" width="1" height="23" fill="#C0C0C0" />
<rect x="1319" y="646" width="1" height="27" fill="#C0C0C0" />
<rect x="1323" y="646" width="1" height="29" fill="#C0C0C0" />
<rect x="1327" y="646" width="1" height="34" fill="#C0C0C0" />
<rect x="1331" y="646" width="1" height="40" fill="#C0C0C0" />
<rect x="1335" y="646" width="1" height="42" fill="#C0C0C0" />
<rect x="1339" y="646" width="1" height="44" fill="#C0C0C0" />
<rect x="1343" y="646" width="1" height="46" fill="#C0C0C0" />
<rect x="1347" y="646" width="1" height="48" fill="#C0C0C0" />
<rect x="1351" y="646" width="1" height="49" fill="#C0C0C0" />
<rect x="1355" y="646" width="1" height="46" fill="#C0C0C0" />
<rect x="1359" y="646" width="1" height="45" fill="#C0C0C0" />
<polyline points="-0.5,651.8 3.5,652.4 7.5,653.5 11.5,654.8 15.5,657.2 19.5,659.9 23.5,662.7 27.5,665.3 31.5,667.6 35.5,669.3 39.5,670.3 43.5,670.8 47.5,670.6 51.5,669.4 55.5,667.4 59.5,665.1 63.5,662.7 67.5,660.3 71.5,657.9 75.5,655.4 79.5,652.9 83.5,650.7 87.5,648.4 91.5,646.1 95.5,644.0 99.5,642.0 103.5,640.4 107.5,639.1 111.5,638.0 115.5,637.2 119.5,636.5 123.5,636.4 127.5,636.5 131.5,636.1 135.5,635.0 139.5,633.3 143.5,631.4 147.5,629.5 151.5,627.5 155.5,625.4 159.5,623.1 163.5,620.8 167.5,619.4 171.5,618.6 175.5,618.5 179.5,618.3 183.5,618.2 187.5,618.3 191.5,618.7 195.5,619.5 199.5,620.6 203.5,621.6 207.5,622.8 211.5,624.0 215.5,625.7 219.5,627.6 223.5,629.7 227.5,631.6 231.5,633.0 235.5,633.8 239.5,633.8 243.5,633.1 247.5,632.2 251.5,632.0 255.5,633.9 259.5,637.1 263.5,642.0 267.5,648.5 271.5,656.5 275.5,666.4 279.5,677.7 283.5,689.6 287.5,701.8 291.5,712.6 295.5,722.4 299.5,730.6 303.5,737.2 307.5,743.1 311.5,746.8 315.5,748.9 319.5,749.3 323.5,747.8 327.5,744.7 331.5,740.7 335.5,736.5 339.5,732.0 343.5,727.1 347.5,723.6 351.5,720.2 355.5,717.4 359.5,714.7 363.5,712.4 367.5,710.4 371.5,708.1 375.5,706.0 379.5,703.7 383.5,700.7 387.5,698.1 391.5,696.0 395.5,695.1 399.5,694.6 403.5,694.5 407.5,694.8 411.5,695.2 415.5,696.1 419.5,697.1 423.5,698.2 427.5,699.1 431.5,698.9 435.5,698.7 439.5,698.2 443.5,695.6 447.5,691.2 451.5,685.2 455.5,678.5 459.5,671.3 463.5,664.7 467.5,658.8 471.5,652.9 475.5,647.2 479.5,643.8 483.5,641.8 487.5,640.9 491.5,640.8 495.5,641.3 499.5,641.4 503.5,641.0 507.5,640.4 511.5,639.5 515.5,638.3 519.5,637.3 523.5,636.3 527.5,635.2 531.5,634.0 535.5,632.4 539.5,630.9 543.5,629.2 547.5,627.7 551.5,626.4 555.5,625.3 559.5,624.8 563.5,624.7 567.5,625.1 571.5,626.2 575.5,627.2 579.5,628.5 583.5,629.8 587.5,631.0 591.5,631.9 595.5,632.4 599.5,632.9 603.5,633.0 607.5,632.9 611.5,633.0 615.5,633.4 619.5,633.8 623.5,634.3 627.5,634.8 631.5,635.2 635.5,637.2 639.5,640.6 643.5,645.9 647.5,651.5 651.5,656.8 655.5,661.7 659.5,666.2 663.5,670.2 667.5,674.2 671.5,676.4 675.5,677.2 679.5,676.2 683.5,674.5 687.5,672.9 691.5,671.5 695.5,670.3 699.5,669.7 703.5,669.4 707.5,668.6 711.5,667.1 715.5,665.2 719.5,663.3 723.5,661.2 727.5,658.7 731.5,655.6 735.5,651.9 739.5,648.0 743.5,644.0 747.5,640.4 751.5,637.3 755.5,634.4 759.5,632.0 763.5,630.6 767.5,630.1 771.5,630.2 775.5,630.6 779.5,631.6 783.5,633.0 787.5,634.4 791.5,635.6 795.5,637.0 799.5,638.4 803.5,639.9 807.5,641.4 811.5,643.4 815.5,645.4 819.5,646.8 823.5,647.9 827.5,648.8 831.5,648.9 835.5,648.6 839.5,647.2 843.5,645.5 847.5,642.9 851.5,639.6 855.5,635.9 859.5,631.9 863.5,627.8 867.5,624.0 871.5,620.3 875.5,617.4 879.5,615.0 883.5,613.0 887.5,612.0 891.5,611.7 895.5,612.0 899.5,612.5 903.5,612.9 907.5,613.2 911.5,612.9 915.5,612.4 919.5,611.9 923.5,611.1 927.5,610.1 931.5,608.9 935.5,607.5 939.5,605.9 943.5,604.7 947.5,603.7 951.5,602.7 955.5,601.4 959.5,599.9 963.5,598.7 967.5,598.1 971.5,598.1 975.5,598.2 979.5,598.2 983.5,598.1 987.5,598.3 991.5,599.2 995.5,600.4 999.5,601.5 1003.5,602.9 1007.5,604.4 1011.5,606.4 1015.5,609.0 1019.5,611.8 1023.5,614.2 1027.5,616.1 1031.5,618.0 1035.5,619.7 1039.5,620.9 1043.5,621.7 1047.5,622.2 1051.5,622.5 1055.5,622.6 1059.5,622.8 1063.5,623.2 1067.5,623.8 1071.5,624.0 1075.5,624.0 1079.5,624.7 1083.5,625.5 1087.5,626.7 1091.5,628.1 1095.5,629.6 1099.5,631.2 1103.5,633.1 1107.5,635.4 1111.5,638.0 1115.5,640.1 1119.5,642.3 1123.5,644.6 1127.5,646.8 1131.5,649.3 1135.5,652.1 1139.5,654.8 1143.5,657.6 1147.5,660.2 1151.5,662.6 1155.5,664.5 1159.5,665.8 1163.5,667.1 1167.5,668.6 1171.5,669.9 1175.5,671.0 1179.5,671.7 1183.5,672.2 1187.5,672.0 1191.5,671.2 1195.5,670.3 1199.5,668.8 1203.5,666.4 1207.5,663.6 1211.5,660.7 1215.5,657.4 1219.5,654.2 1223.5,651.8 1227.5,649.7 1231.5,647.4 1235.5,645.1 1239.5,643.1 1243.5,641.2 1247.5,639.4 1251.5,638.1 1255.5,636.9 1259.5,635.4 1263.5,634.0 1267.5,633.1 1271.5,632.3 1275.5,631.0 1279.5,629.6 1283.5,629.0 1287.5,628.9 1291.5,629.4 1295.5,630.3 1299.5,631.9 1303.5,634.0 1307.5,637.3 1311.5,641.7 1315.5,646.9 1319.5,651.8 1323.5,656.2 1327.5,660.8 1331.5,665.8 1335.5,670.7 1339.5,675.2 1343.5,679.1 1347.5,682.5 1351.5,685.3 1355.5,687.5 1359.5,689.3" fill="none" stroke="#FF0000" stroke-width="1" stroke-dasharray="3,3"/>
</g>
<g clip-path="url(#c3)" shape-rendering="crispEdges">
<line x1="0" x2="1627" y1="802.5" y2="802.5" stroke="#C0C0C0" stroke-dasharray="3,3"/>
<line x1="0" x2="1627" y1="849.5" y2="849.5" stroke="#C0C0C0" stroke-dasharray="3,3"/>
<line x1="0" x2="1627" y1="905.5" y2="905.5" stroke="#C0C0C0" stroke-dasharray="3,3"/>
</g><g clip-path="url(#c3)">
<polyline points="-0.5,865.7 3.5,870.0 7.5,868.0 11.5,870.2 15.5,886.9 19.5,877.9 23.5,869.6 27.5,863.6 31.5,862.5 35.5,855.4 39.5,855.1 43.5,852.7 47.5,846.4 51.5,851.1 55.5,845.8 59.5,848.1 63.5,850.8 67.5,848.0 71.5,839.6 75.5,836.3 79.5,835.2 83.5,840.8 87.5,830.0 91.5,831.9 95.5,836.2 99.5,846.8 103.5,845.3 107.5,843.4 111.5,836.3 115.5,836.9 119.5,839.6 123.5,848.6 127.5,842.7 131.5,820.1 135.5,815.4 139.5,819.9 143.5,823.9 147.5,824.3 151.5,822.1 155.5,820.7 159.5,820.7 163.5,827.2 167.5,835.0 171.5,828.6 175.5,831.2 179.5,821.5 183.5,821.3 187.5,822.8 191.5,839.2 195.5,839.1 199.5,850.0 203.5,840.1 207.5,844.1 211.5,847.2 215.5,846.8 219.5,847.3 223.5,846.9 227.5,844.8 231.5,829.6 235.5,827.9 239.5,809.9 243.5,818.1 247.5,835.2 251.5,865.1 255.5,887.9 259.5,881.3 263.5,887.6 267.5,889.6 271.5,890.7 275.5,893.4 279.5,894.5 283.5,894.7 287.5,901.5 291.5,901.9 295.5,894.8 299.5,895.4 303.5,889.8 307.5,897.3 311.5,865.2 315.5,867.6 319.5,862.3 323.5,864.5 327.5,861.7 331.5,866.6 335.5,871.8 339.5,863.8 343.5,872.2 347.5,876.4 351.5,859.3 355.5,861.9 359.5,858.4 363.5,861.2 367.5,863.6 371.5,861.7 375.5,862.6 379.5,865.4 383.5,861.1 387.5,862.8 391.5,867.4 395.5,877.6 399.5,867.4 403.5,871.7 407.5,868.7 411.5,867.7 415.5,875.4 419.5,865.6 423.5,867.5 427.5,865.1 431.5,861.9 435.5,868.9 439.5,868.2 443.5,831.0 447.5,829.6 451.5,832.0 455.5,837.4 459.5,837.1 463.5,852.7 467.5,854.2 471.5,849.1 475.5,851.1 479.5,851.9 483.5,842.0 487.5,846.2 491.5,845.9 495.5,848.4 499.5,846.7 503.5,843.1 507.5,845.0 511.5,840.7 515.5,839.0 519.5,841.9 523.5,836.9 527.5,840.0 531.5,838.0 535.5,830.9 539.5,836.8 543.5,831.6 547.5,836.2 551.5,835.3 555.5,842.0 559.5,847.7 563.5,847.1 567.5,854.6 571.5,850.4 575.5,838.7 579.5,842.0 583.5,841.5 587.5,839.7 591.5,835.1 595.5,836.7 599.5,847.6 603.5,847.6 607.5,839.5 611.5,845.8 615.5,850.9 619.5,845.9 623.5,841.2 627.5,837.9 631.5,833.6 635.5,883.8 639.5,883.9 643.5,891.0 647.5,868.2 651.5,859.6 655.5,855.9 659.5,852.3 663.5,848.4 667.5,853.3 671.5,860.7 675.5,858.3 679.5,858.1 683.5,856.6 687.5,858.1 691.5,857.6 695.5,854.0 699.5,858.1 703.5,859.0 707.5,851.7 711.5,840.8 715.5,844.5 719.5,852.1 723.5,844.5 727.5,838.9 731.5,832.1 735.5,831.8 739.5,835.2 743.5,833.1 747.5,832.7 751.5,843.0 755.5,843.6 759.5,844.9 763.5,851.3 767.5,850.0 771.5,844.9 775.5,841.2 779.5,849.7 783.5,848.7 787.5,848.7 791.5,843.3 795.5,860.3 799.5,853.2 803.5,862.8 807.5,854.1 811.5,862.4 815.5,856.7 819.5,844.9 823.5,845.3 827.5,842.8 831.5,839.5 835.5,839.5 839.5,828.5 843.5,835.8 847.5,831.5 851.5,821.5 855.5,819.9 859.5,818.6 863.5,819.8 867.5,824.9 871.5,823.3 875.5,836.8 879.5,833.7 883.5,831.1 887.5,836.0 891.5,832.2 895.5,831.9 899.5,824.6 903.5,822.8 907.5,817.8 911.5,815.1 915.5,823.6 919.5,821.7 923.5,822.3 927.5,816.1 931.5,813.8 935.5,809.8 939.5,807.6 943.5,814.6 947.5,814.6 951.5,811.0 955.5,805.0 959.5,803.6 963.5,819.6 967.5,831.1 971.5,831.1 975.5,817.2 979.5,815.8 983.5,816.0 987.5,831.5 991.5,832.1 995.5,825.1 999.5,824.7 1003.5,847.9 1007.5,843.6 1011.5,843.0 1015.5,846.9 1019.5,838.9 1023.5,833.5 1027.5,831.2 1031.5,830.6 1035.5,833.2 1039.5,833.2 1043.5,832.3 1047.5,833.4 1051.5,836.1 1055.5,830.0 1059.5,831.3 1063.5,832.0 1067.5,832.0 1071.5,817.9 1075.5,817.7 1079.5,859.8 1083.5,849.1 1087.5,853.7 1091.5,851.8 1095.5,849.8 1099.5,848.3 1103.5,857.1 1107.5,855.0 1111.5,853.8 1115.5,854.4 1119.5,869.4 1123.5,870.0 1127.5,865.9 1131.5,874.7 1135.5,877.0 1139.5,874.4 1143.5,877.5 1147.5,862.9 1151.5,866.2 1155.5,866.2 1159.5,854.6 1163.5,872.0 1167.5,881.8 1171.5,872.5 1175.5,864.2 1179.5,865.5 1183.5,858.6 1187.5,841.8 1191.5,842.2 1195.5,846.0 1199.5,847.3 1203.5,846.3 1207.5,847.8 1211.5,846.8 1215.5,836.1 1219.5,844.9 1223.5,848.8 1227.5,840.1 1231.5,830.2 1235.5,832.3 1239.5,846.3 1243.5,840.2 1247.5,840.6 1251.5,845.1 1255.5,840.3 1259.5,833.7 1263.5,834.8 1267.5,837.8 1271.5,829.0 1275.5,825.6 1279.5,825.1 1283.5,858.7 1287.5,859.1 1291.5,857.1 1295.5,850.8 1299.5,859.2 1303.5,864.5 1307.5,874.7 1311.5,874.9 1315.5,876.0 1319.5,876.0 1323.5,871.5 1327.5,881.3 1331.5,885.6 1335.5,878.4 1339.5,879.3 1343.5,881.4 1347.5,881.9 1351.5,883.0 1355.5,869.0 1359.5,871.2" fill="none" stroke="#1E90FF" stroke-width="1.1" />
</g>
<g font-family="Liberation Sans, sans-serif">
<rect x="1628" y="51" width="2" height="1" fill="#000" shape-rendering="crispEdges"/>
<text x="1633.2" y="55" font-size="9.8" fill="#000" stroke="#000" stroke-width="0.15" text-rendering="geometricPrecision" text-anchor="start" textLength="33.0" lengthAdjust="spacingAndGlyphs" >109.360</text>
<rect x="1628" y="84" width="2" height="1" fill="#000" shape-rendering="crispEdges"/>
<text x="1633.2" y="88" font-size="9.8" fill="#000" stroke="#000" stroke-width="0.15" text-rendering="geometricPrecision" text-anchor="start" textLength="33.0" lengthAdjust="spacingAndGlyphs" >109.065</text>
<rect x="1628" y="117" width="2" height="1" fill="#000" shape-rendering="crispEdges"/>
<text x="1633.2" y="121" font-size="9.8" fill="#000" stroke="#000" stroke-width="0.15" text-rendering="geometricPrecision" text-anchor="start" textLength="33.0" lengthAdjust="spacingAndGlyphs" >108.775</text>
<rect x="1628" y="150" width="2" height="1" fill="#000" shape-rendering="crispEdges"/>
<text x="1633.2" y="154" font-size="9.8" fill="#000" stroke="#000" stroke-width="0.15" text-rendering="geometricPrecision" text-anchor="start" textLength="33.0" lengthAdjust="spacingAndGlyphs" >108.485</text>
<rect x="1628" y="183" width="2" height="1" fill="#000" shape-rendering="crispEdges"/>
<text x="1633.2" y="187" font-size="9.8" fill="#000" stroke="#000" stroke-width="0.15" text-rendering="geometricPrecision" text-anchor="start" textLength="33.0" lengthAdjust="spacingAndGlyphs" >108.195</text>
<rect x="1628" y="216" width="2" height="1" fill="#000" shape-rendering="crispEdges"/>
<text x="1633.2" y="220" font-size="9.8" fill="#000" stroke="#000" stroke-width="0.15" text-rendering="geometricPrecision" text-anchor="start" textLength="33.0" lengthAdjust="spacingAndGlyphs" >107.905</text>
<rect x="1628" y="249" width="2" height="1" fill="#000" shape-rendering="crispEdges"/>
<text x="1633.2" y="253" font-size="9.8" fill="#000" stroke="#000" stroke-width="0.15" text-rendering="geometricPrecision" text-anchor="start" textLength="33.0" lengthAdjust="spacingAndGlyphs" >107.615</text>
<rect x="1628" y="282" width="2" height="1" fill="#000" shape-rendering="crispEdges"/>
<text x="1633.2" y="286" font-size="9.8" fill="#000" stroke="#000" stroke-width="0.15" text-rendering="geometricPrecision" text-anchor="start" textLength="33.0" lengthAdjust="spacingAndGlyphs" >107.325</text>
<rect x="1628" y="315" width="2" height="1" fill="#000" shape-rendering="crispEdges"/>
<text x="1633.2" y="319" font-size="9.8" fill="#000" stroke="#000" stroke-width="0.15" text-rendering="geometricPrecision" text-anchor="start" textLength="33.0" lengthAdjust="spacingAndGlyphs" >107.035</text>
<rect x="1628" y="348" width="2" height="1" fill="#000" shape-rendering="crispEdges"/>
<text x="1633.2" y="352" font-size="9.8" fill="#000" stroke="#000" stroke-width="0.15" text-rendering="geometricPrecision" text-anchor="start" textLength="33.0" lengthAdjust="spacingAndGlyphs" >106.745</text>
<rect x="1628" y="381" width="2" height="1" fill="#000" shape-rendering="crispEdges"/>
<text x="1633.2" y="385" font-size="9.8" fill="#000" stroke="#000" stroke-width="0.15" text-rendering="geometricPrecision" text-anchor="start" textLength="33.0" lengthAdjust="spacingAndGlyphs" >106.455</text>
<rect x="1628" y="414" width="2" height="1" fill="#000" shape-rendering="crispEdges"/>
<text x="1633.2" y="418" font-size="9.8" fill="#000" stroke="#000" stroke-width="0.15" text-rendering="geometricPrecision" text-anchor="start" textLength="33.0" lengthAdjust="spacingAndGlyphs" >106.160</text>
<rect x="1628" y="447" width="2" height="1" fill="#000" shape-rendering="crispEdges"/>
<text x="1633.2" y="451" font-size="9.8" fill="#000" stroke="#000" stroke-width="0.15" text-rendering="geometricPrecision" text-anchor="start" textLength="33.0" lengthAdjust="spacingAndGlyphs" >105.870</text>
<rect x="1628" y="480" width="2" height="1" fill="#000" shape-rendering="crispEdges"/>
<text x="1633.2" y="484" font-size="9.8" fill="#000" stroke="#000" stroke-width="0.15" text-rendering="geometricPrecision" text-anchor="start" textLength="33.0" lengthAdjust="spacingAndGlyphs" >105.580</text>
<rect x="1628" y="513" width="2" height="1" fill="#000" shape-rendering="crispEdges"/>
<text x="1633.2" y="517" font-size="9.8" fill="#000" stroke="#000" stroke-width="0.15" text-rendering="geometricPrecision" text-anchor="start" textLength="33.0" lengthAdjust="spacingAndGlyphs" >105.290</text>
<rect x="1628" y="546" width="2" height="1" fill="#000" shape-rendering="crispEdges"/>
<text x="1633.2" y="550" font-size="9.8" fill="#000" stroke="#000" stroke-width="0.15" text-rendering="geometricPrecision" text-anchor="start" textLength="33.0" lengthAdjust="spacingAndGlyphs" >105.000</text>
<rect x="1628" y="579" width="2" height="1" fill="#000" shape-rendering="crispEdges"/>
<text x="1633.2" y="583" font-size="9.8" fill="#000" stroke="#000" stroke-width="0.15" text-rendering="geometricPrecision" text-anchor="start" textLength="33.0" lengthAdjust="spacingAndGlyphs" >104.710</text>
<rect x="1629" y="252" width="41" height="10" fill="#FF0000" />
<text x="1633.2" y="260.4" font-size="9.8" fill="#fff" stroke="#fff" stroke-width="0.15" text-rendering="geometricPrecision" text-anchor="start" textLength="33.0" lengthAdjust="spacingAndGlyphs" >107.546</text>
<rect x="1629" y="277" width="41" height="10" fill="#FF0000" />
<text x="1633.2" y="285.4" font-size="9.8" fill="#fff" stroke="#fff" stroke-width="0.15" text-rendering="geometricPrecision" text-anchor="start" textLength="33.0" lengthAdjust="spacingAndGlyphs" >107.326</text>
<rect x="1629" y="310" width="41" height="10" fill="#32CD32" />
<text x="1633.2" y="318.4" font-size="9.8" fill="#fff" stroke="#fff" stroke-width="0.15" text-rendering="geometricPrecision" text-anchor="start" textLength="33.0" lengthAdjust="spacingAndGlyphs" >107.036</text>
<rect x="1629" y="365" width="41" height="10" fill="#0000FF" />
<text x="1633.2" y="373.4" font-size="9.8" fill="#fff" stroke="#fff" stroke-width="0.15" text-rendering="geometricPrecision" text-anchor="start" textLength="33.0" lengthAdjust="spacingAndGlyphs" >106.549</text>
<rect x="1629" y="394" width="41" height="10" fill="#0000FF" />
<text x="1633.2" y="402.4" font-size="9.8" fill="#fff" stroke="#fff" stroke-width="0.15" text-rendering="geometricPrecision" text-anchor="start" textLength="33.0" lengthAdjust="spacingAndGlyphs" >106.298</text>
<rect x="1629" y="332" width="41" height="10" fill="#000" />
<text x="1633.2" y="340.4" font-size="9.8" fill="#fff" stroke="#fff" stroke-width="0.15" text-rendering="geometricPrecision" text-anchor="start" textLength="33.0" lengthAdjust="spacingAndGlyphs" >106.847</text>
<text x="1630.6" y="594.8" font-size="9.8" fill="#000" stroke="#000" stroke-width="0.15" text-rendering="geometricPrecision" text-anchor="start" textLength="27.9" lengthAdjust="spacingAndGlyphs" >0.3739</text>
<text x="1630.6" y="649.9" font-size="9.8" fill="#000" stroke="#000" stroke-width="0.15" text-rendering="geometricPrecision" text-anchor="start" textLength="17.8" lengthAdjust="spacingAndGlyphs" >0.00</text>
<text x="1630.8" y="763.9" font-size="9.8" fill="#000" stroke="#000" stroke-width="0.15" text-rendering="geometricPrecision" text-anchor="start" textLength="31.0" lengthAdjust="spacingAndGlyphs" >-0.7409</text>
<text x="1630.4" y="780" font-size="9.8" fill="#000" stroke="#000" stroke-width="0.15" text-rendering="geometricPrecision" text-anchor="start" textLength="15.2" lengthAdjust="spacingAndGlyphs" >100</text>
<text x="1629.6" y="805.6" font-size="9.8" fill="#000" stroke="#000" stroke-width="0.15" text-rendering="geometricPrecision" text-anchor="start" textLength="10.2" lengthAdjust="spacingAndGlyphs" >80</text>
<text x="1629.6" y="852.9" font-size="9.8" fill="#000" stroke="#000" stroke-width="0.15" text-rendering="geometricPrecision" text-anchor="start" textLength="10.2" lengthAdjust="spacingAndGlyphs" >50</text>
<text x="1629.5" y="909" font-size="9.8" fill="#000" stroke="#000" stroke-width="0.15" text-rendering="geometricPrecision" text-anchor="start" textLength="10.2" lengthAdjust="spacingAndGlyphs" >15</text>
<text x="1630.6" y="925.9" font-size="9.8" fill="#000" stroke="#000" stroke-width="0.15" text-rendering="geometricPrecision" text-anchor="start" textLength="5.1" lengthAdjust="spacingAndGlyphs" >0</text>
<rect x="1628" y="586" width="1" height="1" fill="#000" shape-rendering="crispEdges"/>
<rect x="1628" y="646" width="1" height="1" fill="#000" shape-rendering="crispEdges"/>
<rect x="1628" y="766" width="1" height="1" fill="#000" shape-rendering="crispEdges"/>
<rect x="1628" y="771" width="1" height="1" fill="#000" shape-rendering="crispEdges"/>
<rect x="1628" y="928" width="1" height="1" fill="#000" shape-rendering="crispEdges"/>
<rect x="1627" y="583" width="1" height="1" fill="#fff" shape-rendering="crispEdges"/>
<rect x="1627" y="768" width="1" height="1" fill="#fff" shape-rendering="crispEdges"/>
<text x="14.2" y="41" font-size="9.8" textLength="53.6" lengthAdjust="spacingAndGlyphs" stroke="#000" stroke-width="0.15" text-rendering="geometricPrecision">USDJPY-,H4</text>
<text x="74.4" y="41" font-size="9.8" fill="#000" stroke="#000" stroke-width="0.15" text-rendering="geometricPrecision" text-anchor="start" textLength="33.0" lengthAdjust="spacingAndGlyphs" >106.903</text>
<text x="110.4" y="41" font-size="9.8" fill="#000" stroke="#000" stroke-width="0.15" text-rendering="geometricPrecision" text-anchor="start" textLength="33.0" lengthAdjust="spacingAndGlyphs" >106.922</text>
<text x="146.4" y="41" font-size="9.8" fill="#000" stroke="#000" stroke-width="0.15" text-rendering="geometricPrecision" text-anchor="start" textLength="33.0" lengthAdjust="spacingAndGlyphs" >106.807</text>
<text x="182.5" y="41" font-size="9.8" fill="#000" stroke="#000" stroke-width="0.15" text-rendering="geometricPrecision" text-anchor="start" textLength="33.0" lengthAdjust="spacingAndGlyphs" >106.847</text>
<path d="M2,40.5 L5.7,36.3 L9.4,40.5 Z" fill="#000"/>
<text x="3" y="597" font-size="9.8" textLength="133.5" lengthAdjust="spacingAndGlyphs" stroke="#000" stroke-width="0.15" text-rendering="geometricPrecision">MACD(12,26,9) -0.2658 -0.2612</text>
<text x="3" y="781.5" font-size="9.8" textLength="67.8" lengthAdjust="spacingAndGlyphs" stroke="#000" stroke-width="0.15" text-rendering="geometricPrecision">RSI(14) 36.1225</text>
<rect x="-1" y="930" width="1" height="3" fill="#000" shape-rendering="crispEdges"/>
<text x="-2.4" y="942" font-size="9.8" fill="#000" stroke="#000" stroke-width="0.15" text-rendering="geometricPrecision" text-anchor="start" textLength="47.2" lengthAdjust="spacingAndGlyphs" >18 Jul 2019</text>
<rect x="63" y="930" width="1" height="3" fill="#000" shape-rendering="crispEdges"/>
<text x="61.6" y="942" font-size="9.8" fill="#000" stroke="#000" stroke-width="0.15" text-rendering="geometricPrecision" text-anchor="start" textLength="49.8" lengthAdjust="spacingAndGlyphs" >22 Jul 16:00</text>
<rect x="127" y="930" width="1" height="3" fill="#000" shape-rendering="crispEdges"/>
<text x="125.6" y="942" font-size="9.8" fill="#000" stroke="#000" stroke-width="0.15" text-rendering="geometricPrecision" text-anchor="start" textLength="49.8" lengthAdjust="spacingAndGlyphs" >25 Jul 08:00</text>
<rect x="191" y="930" width="1" height="3" fill="#000" shape-rendering="crispEdges"/>
<text x="189.6" y="942" font-size="9.8" fill="#000" stroke="#000" stroke-width="0.15" text-rendering="geometricPrecision" text-anchor="start" textLength="49.8" lengthAdjust="spacingAndGlyphs" >30 Jul 00:00</text>
<rect x="255" y="930" width="1" height="3" fill="#000" shape-rendering="crispEdges"/>
<text x="253.6" y="942" font-size="9.8" fill="#000" stroke="#000" stroke-width="0.15" text-rendering="geometricPrecision" text-anchor="start" textLength="48.8" lengthAdjust="spacingAndGlyphs" >1 Aug 16:00</text>
<rect x="319" y="930" width="1" height="3" fill="#000" shape-rendering="crispEdges"/>
<text x="317.6" y="942" font-size="9.8" fill="#000" stroke="#000" stroke-width="0.15" text-rendering="geometricPrecision" text-anchor="start" textLength="48.8" lengthAdjust="spacingAndGlyphs" >6 Aug 08:00</text>
<rect x="383" y="930" width="1" height="3" fill="#000" shape-rendering="crispEdges"/>
<text x="381.6" y="942" font-size="9.8" fill="#000" stroke="#000" stroke-width="0.15" text-rendering="geometricPrecision" text-anchor="start" textLength="48.8" lengthAdjust="spacingAndGlyphs" >9 Aug 00:00</text>
<rect x="447" y="930" width="1" height="3" fill="#000" shape-rendering="crispEdges"/>
<text x="445.6" y="942" font-size="9.8" fill="#000" stroke="#000" stroke-width="0.15" text-rendering="geometricPrecision" text-anchor="start" textLength="53.8" lengthAdjust="spacingAndGlyphs" >13 Aug 16:00</text>
<rect x="511" y="930" width="1" height="3" fill="#000" shape-rendering="crispEdges"/>
<text x="509.6" y="942" font-size="9.8" fill="#000" stroke="#000" stroke-width="0.15" text-rendering="geometricPrecision" text-anchor="start" textLength="53.8" lengthAdjust="spacingAndGlyphs" >16 Aug 08:00</text>
<rect x="575" y="930" width="1" height="3" fill="#000" shape-rendering="crispEdges"/>
<text x="573.6" y="942" font-size="9.8" fill="#000" stroke="#000" stroke-width="0.15" text-rendering="geometricPrecision" text-anchor="start" textLength="53.8" lengthAdjust="spacingAndGlyphs" >21 Aug 00:00</text>
<rect x="639" y="930" width="1" height="3" fill="#000" shape-rendering="crispEdges"/>
<text x="637.6" y="942" font-size="9.8" fill="#000" stroke="#000" stroke-width="0.15" text-rendering="geometricPrecision" text-anchor="start" textLength="53.8" lengthAdjust="spacingAndGlyphs" >23 Aug 16:00</text>
<rect x="703" y="930" width="1" height="3" fill="#000" shape-rendering="crispEdges"/>
<text x="701.6" y="942" font-size="9.8" fill="#000" stroke="#000" stroke-width="0.15" text-rendering="geometricPrecision" text-anchor="start" textLength="53.8" lengthAdjust="spacingAndGlyphs" >28 Aug 08:00</text>
<rect x="767" y="930" width="1" height="3" fill="#000" shape-rendering="crispEdges"/>
<text x="765.6" y="942" font-size="9.8" fill="#000" stroke="#000" stroke-width="0.15" text-rendering="geometricPrecision" text-anchor="start" textLength="49.3" lengthAdjust="spacingAndGlyphs" >2 Sep 00:00</text>
<rect x="831" y="930" width="1" height="3" fill="#000" shape-rendering="crispEdges"/>
<text x="829.6" y="942" font-size="9.8" fill="#000" stroke="#000" stroke-width="0.15" text-rendering="geometricPrecision" text-anchor="start" textLength="49.3" lengthAdjust="spacingAndGlyphs" >4 Sep 16:00</text>
<rect x="895" y="930" width="1" height="3" fill="#000" shape-rendering="crispEdges"/>
<text x="893.6" y="942" font-size="9.8" fill="#000" stroke="#000" stroke-width="0.15" text-rendering="geometricPrecision" text-anchor="start" textLength="49.3" lengthAdjust="spacingAndGlyphs" >9 Sep 08:00</text>
<rect x="959" y="930" width="1" height="3" fill="#000" shape-rendering="crispEdges"/>
<text x="957.6" y="942" font-size="9.8" fill="#000" stroke="#000" stroke-width="0.15" text-rendering="geometricPrecision" text-anchor="start" textLength="54.3" lengthAdjust="spacingAndGlyphs" >12 Sep 00:00</text>
<rect x="1023" y="930" width="1" height="3" fill="#000" shape-rendering="crispEdges"/>
<text x="1021.6" y="942" font-size="9.8" fill="#000" stroke="#000" stroke-width="0.15" text-rendering="geometricPrecision" text-anchor="start" textLength="54.3" lengthAdjust="spacingAndGlyphs" >16 Sep 16:00</text>
<rect x="1087" y="930" width="1" height="3" fill="#000" shape-rendering="crispEdges"/>
<text x="1085.6" y="942" font-size="9.8" fill="#000" stroke="#000" stroke-width="0.15" text-rendering="geometricPrecision" text-anchor="start" textLength="54.3" lengthAdjust="spacingAndGlyphs" >19 Sep 08:00</text>
<rect x="1151" y="930" width="1" height="3" fill="#000" shape-rendering="crispEdges"/>
<text x="1149.6" y="942" font-size="9.8" fill="#000" stroke="#000" stroke-width="0.15" text-rendering="geometricPrecision" text-anchor="start" textLength="54.3" lengthAdjust="spacingAndGlyphs" >24 Sep 00:00</text>
<rect x="1215" y="930" width="1" height="3" fill="#000" shape-rendering="crispEdges"/>
<text x="1213.6" y="942" font-size="9.8" fill="#000" stroke="#000" stroke-width="0.15" text-rendering="geometricPrecision" text-anchor="start" textLength="54.3" lengthAdjust="spacingAndGlyphs" >26 Sep 16:00</text>
<rect x="1279" y="930" width="1" height="3" fill="#000" shape-rendering="crispEdges"/>
<text x="1277.6" y="942" font-size="9.8" fill="#000" stroke="#000" stroke-width="0.15" text-rendering="geometricPrecision" text-anchor="start" textLength="47.2" lengthAdjust="spacingAndGlyphs" >1 Oct 08:00</text>
<rect x="1343" y="930" width="1" height="3" fill="#000" shape-rendering="crispEdges"/>
<text x="1341.6" y="942" font-size="9.8" fill="#000" stroke="#000" stroke-width="0.15" text-rendering="geometricPrecision" text-anchor="start" textLength="47.2" lengthAdjust="spacingAndGlyphs" >4 Oct 00:00</text>
<rect x="1506.5" y="299.5" width="99" height="32" fill="#fff" stroke="#FF0000" shape-rendering="crispEdges"/>
<text x="1507.2" y="326.1" font-size="28" fill="#FF0000" text-anchor="start" textLength="98.5" lengthAdjust="spacingAndGlyphs">107.036</text>
<g shape-rendering="crispEdges"><rect x="1496" y="314" width="7" height="2" fill="#FF0000"/><rect x="1503" y="313" width="3" height="5" fill="#FF0000"/><rect x="1504" y="314" width="1" height="3" fill="#fff"/></g>
</g>
<text x="1429" y="459" font-size="32" font-weight="bold" fill="#101040" textLength="161" lengthAdjust="spacingAndGlyphs" style="font-family:'Liberation Serif','Noto Serif CJK SC',serif">多空转折点</text>
<text x="1428" y="458" font-size="32" font-weight="bold" fill="#00FF00" textLength="161" lengthAdjust="spacingAndGlyphs" style="font-family:'Liberation Serif','Noto Serif CJK SC',serif">多空转折点</text>
<path d="M1360,30 L1371,30 L1365.5,35 Z" fill="#B0B0B0"/>
<g font-family="Liberation Sans, sans-serif">
<defs><linearGradient id="gb" x1="0" y1="0" x2="0" y2="1"><stop offset="0" stop-color="#3C3CE2"/><stop offset="0.55" stop-color="#1414C8"/><stop offset="1" stop-color="#0000A6"/></linearGradient><linearGradient id="gb2" x1="0" y1="0" x2="0" y2="1"><stop offset="0" stop-color="#5252F2"/><stop offset="1" stop-color="#3A3AE4"/></linearGradient></defs>
<g shape-rendering="crispEdges">
<rect x="2" y="49" width="52" height="25" fill="url(#gb2)" />
<rect x="169" y="49" width="52" height="25" fill="url(#gb2)" />
<rect x="2" y="73" width="109" height="40" fill="url(#gb)" />
<rect x="113" y="73" width="108" height="40" fill="url(#gb)" />
<rect x="6" y="72" width="44" height="1" fill="#1818B4" />
<rect x="173" y="72" width="44" height="1" fill="#1818B4" />
<rect x="6" y="73" width="44" height="1" fill="#8E8EF2" />
<rect x="173" y="73" width="44" height="1" fill="#8E8EF2" />
<rect x="2" y="49" width="52" height="1" fill="#1414C4" />
<rect x="2" y="49" width="1" height="64" fill="#1212BE" />
<rect x="169" y="49" width="52" height="1" fill="#1414C4" />
<rect x="169" y="49" width="1" height="24" fill="#1212BE" />
<rect x="113" y="73" width="1" height="40" fill="#1212BE" />
<rect x="220" y="49" width="1" height="64" fill="#0C0CB0" />
<rect x="110" y="73" width="1" height="40" fill="#0C0CB0" />
<rect x="54" y="49" width="115" height="24" fill="#F4F4F4" />
<rect x="56" y="49" width="111" height="22" fill="#A6A6A6" />
<rect x="57" y="50" width="20" height="20" fill="#E4E4E4" />
<rect x="78" y="50" width="67" height="20" fill="#fff" />
<rect x="146" y="50" width="20" height="20" fill="#E4E4E4" />
</g>
<path d="M64,58.5 h5.6 l-2.8,2.8 Z" fill="#000"/><path d="M152.4,61.3 h5.6 l-2.8,-2.8 Z" fill="#000"/>
<text x="14.4" y="64.8" font-size="12" fill="#fff" textLength="25.4" lengthAdjust="spacingAndGlyphs">SELL</text>
<text x="182.5" y="64.8" font-size="12" fill="#fff" textLength="22.9" lengthAdjust="spacingAndGlyphs">BUY</text>
<text x="141.8" y="64" font-size="12.4" fill="#000" text-anchor="end" >1.00</text>
<text x="25.5" y="103.6" font-size="12" fill="#fff" text-anchor="start" font-weight="bold">106</text>
<text x="49.6" y="104.3" font-size="32.5" fill="#fff" text-anchor="start" textLength="35.5" lengthAdjust="spacingAndGlyphs">84</text>
<text x="89.5" y="87.2" font-size="11.8" fill="#fff" text-anchor="start" font-weight="bold">7</text>
<text x="135.8" y="103.6" font-size="12" fill="#fff" text-anchor="start" font-weight="bold">106</text>
<text x="159.9" y="104.3" font-size="32.5" fill="#fff" text-anchor="start" textLength="35.5" lengthAdjust="spacingAndGlyphs">86</text>
<text x="200.3" y="87.2" font-size="11.8" fill="#fff" text-anchor="start" font-weight="bold">6</text>
</g>
<g font-family="Liberation Sans, sans-serif">
<rect x="0" y="0" width="1674" height="27" fill="#F0F0F0"/>
<g shape-rendering="crispEdges"><rect x="0" y="25" width="1674" height="1" fill="#B8B8B8"/><rect x="0" y="26" width="1674" height="1" fill="#6E6E6E"/>
<rect x="0" y="27" width="1674" height="2" fill="#fff"/></g>
<defs><linearGradient id="gplus" x1="0" y1="0" x2="1" y2="1"><stop offset="0" stop-color="#7CF07C"/><stop offset="1" stop-color="#10A010"/></linearGradient><linearGradient id="ggold" x1="0" y1="0" x2="0" y2="1"><stop offset="0" stop-color="#FFE060"/><stop offset="1" stop-color="#C89010"/></linearGradient><linearGradient id="gblue" x1="0" y1="0" x2="0" y2="1"><stop offset="0" stop-color="#50B8FF"/><stop offset="1" stop-color="#1070E0"/></linearGradient><linearGradient id="gcloud" x1="0" y1="0" x2="0" y2="1"><stop offset="0" stop-color="#FFFFFF"/><stop offset="1" stop-color="#B8C8E8"/></linearGradient><linearGradient id="ggreen" x1="0" y1="0" x2="1" y2="0"><stop offset="0" stop-color="#18B018"/><stop offset="0.5" stop-color="#70F070"/><stop offset="1" stop-color="#18B018"/></linearGradient><radialGradient id="glens" cx="0.4" cy="0.35" r="0.7"><stop offset="0" stop-color="#FFFFFF"/><stop offset="1" stop-color="#B8DCF8"/></radialGradient><linearGradient id="gbub" x1="0" y1="0" x2="0" y2="1"><stop offset="0" stop-color="#FFFFFF"/><stop offset="1" stop-color="#D4D4E4"/></linearGradient><linearGradient id="gbook" x1="0" y1="0.2" x2="1" y2="0.6"><stop offset="0" stop-color="#D8A820"/><stop offset="0.45" stop-color="#FFE448"/><stop offset="1" stop-color="#E0B020"/></linearGradient><linearGradient id="gclock" x1="0" y1="0" x2="0" y2="1"><stop offset="0" stop-color="#3C8CF0"/><stop offset="1" stop-color="#0848B8"/></linearGradient></defs>
<path d="M-1,5.8 H5.5 L9.3,9.6 V18.3 H-1 Z" fill="#FCFCFC" stroke="#A8A8A8" stroke-width="0.9"/>
<path d="M0,8.3 H3 M0,11.3 H6 M0,13.6 H6" stroke="#9C9C9C" stroke-width="1.3"/>
<path d="M6.3,11.6 h3.4 v3.8999999999999995 h3.8999999999999995 v3.4 h-3.8999999999999995 v3.8999999999999995 h-3.4 v-3.8999999999999995 h-3.8999999999999995 v-3.4 h3.8999999999999995 Z" fill="url(#gplus)" stroke="#12900E" stroke-width="0.9" stroke-linejoin="round"/>
<text x="16.8" y="16.3" font-size="12" fill="#000" textLength="35.8" lengthAdjust="spacingAndGlyphs" style="font-family:'Liberation Sans','Noto Sans CJK SC',sans-serif">新订单</text>
<path d="M65.2,14.7 L72.6,19.2 L80.7,13.4 L81,14.8 L72.8,21 L64.9,16 Z" fill="#B87A12" stroke="#9A6408" stroke-width="0.6" stroke-linejoin="round"/>
<path d="M72.7,19.5 L80.6,13.8 L80.8,14.7 L72.8,20.5 Z" fill="#F6EAC0"/>
<path d="M70.9,6.2 L80.6,13.3 L72.6,19.1 L65.4,14.7 Q67.4,10.4 69.8,6.9 Z" fill="url(#gbook)" stroke="#B88610" stroke-width="0.6" stroke-linejoin="round"/>
<path d="M69.6,7 Q67,10.4 66,14.3" stroke="#C08C14" stroke-width="1.2" fill="none"/>
<path d="M95.1,6.3 L100,5.2 L106,6.5 L98.8,7.6 Z" fill="#7CC8FF"/>
<path d="M95.1,6.3 L98.8,7.6 V14.5 L95.1,13 Z" fill="#1A90FF"/>
<path d="M98.8,7.6 L106,6.5 V14.5 H98.8 Z" fill="#EAF4FF" stroke="#2A86E8" stroke-width="0.8"/>
<path d="M101.2,10.2 L104.6,9.6 M101.2,11.8 H103" stroke="#2A7CE0" stroke-width="1"/>
<path d="M94.6,19.9 C92.9,19.6 93.2,16.7 95.4,16.5 C95.6,14.4 98.2,13.5 99.9,14.9 C101.2,13 104.6,13.2 105.3,15.3 C107.2,14.6 109.4,15.9 109.2,17.9 C109.3,19.4 108.2,20.6 106.8,20.7 L95.6,20.7 C95,20.7 94.7,20.3 94.6,19.9 Z" fill="url(#gcloud)" stroke="#5C82C4" stroke-width="0.9"/>
<path d="M129,13 L129,20.9 A8,8 0 0 0 135.9,9 Z" fill="#A4D0A4" opacity="0.9"/>
<path d="M129,20.5 A7.5,7.5 0 0 0 135.5,9.2" fill="none" stroke="#4CAA4C" stroke-width="1.1"/>
<path d="M129,18 A5,5 0 0 0 133.3,10.5" fill="none" stroke="#6CB46C" stroke-width="1"/>
<path d="M135.5,9.2 A7.5,7.5 0 1 0 125,19.4" fill="none" stroke="#A4BCEC" stroke-width="1.3"/>
<path d="M133.3,10.5 A5,5 0 1 0 126.5,17.3" fill="none" stroke="#4C7CDC" stroke-width="1.3"/>
<circle cx="128.9" cy="12.8" r="2" fill="#2460D8"/>
<rect x="128.3" y="13" width="1.5" height="8" fill="#1CA01C"/>
<path d="M148.9,11.6 H163.2 L157.6,19.6 Q155.3,21.2 153.6,19.8 Z" fill="#F6D63C" stroke="#D4A414" stroke-width="0.7" stroke-linejoin="round"/>
<path d="M151,13 H158 L154.6,17.5 Z" fill="#FFF2A8" opacity="0.8"/>
<ellipse cx="156" cy="9.9" rx="7.8" ry="2.7" fill="#4A9CCC" stroke="#2E7CAC" stroke-width="0.6"/>
<ellipse cx="156" cy="7.6" rx="3.9" ry="2.9" fill="#7CC4F0" stroke="#3A8CC0" stroke-width="0.5"/>
<circle cx="160.4" cy="16.6" r="3.9" fill="#E0240E" stroke="#B81808" stroke-width="0.5"/><rect x="159" y="15.2" width="2.8" height="2.8" fill="#fff"/>
<text x="170.5" y="16.3" font-size="12" fill="#000" textLength="45" lengthAdjust="spacingAndGlyphs" style="font-family:'Liberation Sans','Noto Sans CJK SC',sans-serif">自动交易</text>
<rect x="224" y="2" width="1" height="21" fill="#A0A0A0" shape-rendering="crispEdges"/><rect x="225" y="2" width="1" height="21" fill="#FFFFFF" shape-rendering="crispEdges"/>
<rect x="228" y="3" width="3" height="1" fill="#A8A8A8" shape-rendering="crispEdges"/>
<rect x="228" y="5" width="3" height="1" fill="#A8A8A8" shape-rendering="crispEdges"/>
<rect x="228" y="7" width="3" height="1" fill="#A8A8A8" shape-rendering="crispEdges"/>
<rect x="228" y="9" width="3" height="1" fill="#A8A8A8" shape-rendering="crispEdges"/>
<rect x="228" y="11" width="3" height="1" fill="#A8A8A8" shape-rendering="crispEdges"/>
<rect x="228" y="13" width="3" height="1" fill="#A8A8A8" shape-rendering="crispEdges"/>
<rect x="228" y="15" width="3" height="1" fill="#A8A8A8" shape-rendering="crispEdges"/>
<rect x="228" y="17" width="3" height="1" fill="#A8A8A8" shape-rendering="crispEdges"/>
<rect x="228" y="19" width="3" height="1" fill="#A8A8A8" shape-rendering="crispEdges"/>
<rect x="228" y="21" width="3" height="1" fill="#A8A8A8" shape-rendering="crispEdges"/>
<path d="M242.5,21.0 V8 M240,18.5 H253" stroke="#5C5C5C" stroke-width="1" fill="none"/>
<path d="M242.5,6.5 l-2.2,3 h4.4 Z M254.5,18.5 l-3,-2.2 v4.4 Z" fill="#5C5C5C"/>
<path d="M248.5,9 V16 M248.5,9.5 H251 M246,15.5 H248.5" stroke="#1E8C1E" stroke-width="1.3" fill="none"/>
<rect x="262" y="1" width="25" height="22" fill="#F9F9F9" shape-rendering="crispEdges"/>
<rect x="262" y="1" width="25" height="1" fill="#A0A0A0" shape-rendering="crispEdges"/><rect x="262" y="1" width="1" height="22" fill="#A0A0A0" shape-rendering="crispEdges"/>
<rect x="262" y="23" width="26" height="1" fill="#FFFFFF" shape-rendering="crispEdges"/><rect x="287" y="1" width="1" height="22" fill="#FFFFFF" shape-rendering="crispEdges"/>
<path d="M270.5,21.0 V8 M268,18.5 H281" stroke="#5C5C5C" stroke-width="1" fill="none"/>
<path d="M270.5,6.5 l-2.2,3 h4.4 Z M282.5,18.5 l-3,-2.2 v4.4 Z" fill="#5C5C5C"/>
<rect x="276" y="5.5" width="1.2" height="11.5" fill="#149014"/><rect x="274.3" y="7.5" width="4.6" height="7" fill="url(#ggreen)" stroke="#149014" stroke-width="0.8"/>
<path d="M298.5,21.0 V8 M296,18.5 H309" stroke="#5C5C5C" stroke-width="1" fill="none"/>
<path d="M298.5,6.5 l-2.2,3 h4.4 Z M310.5,18.5 l-3,-2.2 v4.4 Z" fill="#5C5C5C"/>
<path d="M297,15.5 Q300,13 302,10.8 Q303.5,9.6 305,11 Q307,13 308.7,14" stroke="#2E9A2E" stroke-width="1.2" fill="none"/>
<rect x="319" y="2" width="1" height="21" fill="#A0A0A0" shape-rendering="crispEdges"/><rect x="320" y="2" width="1" height="21" fill="#FFFFFF" shape-rendering="crispEdges"/>
<path d="M338.2,15 L343,19.8" stroke="#B08818" stroke-width="3.2" stroke-linecap="round"/>
<path d="M338.4,15.2 L342.8,19.6" stroke="#F0D048" stroke-width="1.6" stroke-linecap="round"/>
<circle cx="334" cy="10.8" r="5.4" fill="url(#glens)" stroke="#3A7AD8" stroke-width="1.3"/>
<path d="M331,10.8 h6" stroke="#3E88B0" stroke-width="1.8"/>
<path d="M334,7.8 v6" stroke="#3E88B0" stroke-width="1.8"/>
<path d="M366.4,15 L371.2,19.8" stroke="#B08818" stroke-width="3.2" stroke-linecap="round"/>
<path d="M366.59999999999997,15.2 L371.0,19.6" stroke="#F0D048" stroke-width="1.6" stroke-linecap="round"/>
<circle cx="362.2" cy="10.8" r="5.4" fill="url(#glens)" stroke="#3A7AD8" stroke-width="1.3"/>
<path d="M359.2,10.8 h6" stroke="#3E88B0" stroke-width="1.8"/>
<rect x="384" y="5" width="7.8" height="7.8" fill="#38A018"/><rect x="385.2" y="8" width="5.4" height="3.8" fill="#F4F8FF"/><rect x="386.2" y="9" width="3.4" height="1" fill="#38A018" opacity="0.5"/><rect x="385.2" y="6.2" width="1" height="1" fill="#fff" opacity="0.8"/>
<rect x="392" y="5" width="7.8" height="7.8" fill="#2058D0"/><rect x="393.2" y="8" width="5.4" height="3.8" fill="#F4F8FF"/><rect x="394.2" y="9" width="3.4" height="1" fill="#2058D0" opacity="0.5"/><rect x="393.2" y="6.2" width="1" height="1" fill="#fff" opacity="0.8"/>
<rect x="384" y="13" width="7.8" height="7.8" fill="#2058D0"/><rect x="385.2" y="16" width="5.4" height="3.8" fill="#F4F8FF"/><rect x="386.2" y="17" width="3.4" height="1" fill="#2058D0" opacity="0.5"/><rect x="385.2" y="14.2" width="1" height="1" fill="#fff" opacity="0.8"/>
<rect x="392" y="13" width="7.8" height="7.8" fill="#38A018"/><rect x="393.2" y="16" width="5.4" height="3.8" fill="#F4F8FF"/><rect x="394.2" y="17" width="3.4" height="1" fill="#38A018" opacity="0.5"/><rect x="393.2" y="14.2" width="1" height="1" fill="#fff" opacity="0.8"/>
<rect x="409" y="2" width="1" height="21" fill="#A0A0A0" shape-rendering="crispEdges"/><rect x="410" y="2" width="1" height="21" fill="#FFFFFF" shape-rendering="crispEdges"/>
<rect x="414" y="1" width="25" height="22" fill="#F9F9F9" shape-rendering="crispEdges"/>
<rect x="414" y="1" width="25" height="1" fill="#A0A0A0" shape-rendering="crispEdges"/><rect x="414" y="1" width="1" height="22" fill="#A0A0A0" shape-rendering="crispEdges"/>
<rect x="414" y="23" width="26" height="1" fill="#FFFFFF" shape-rendering="crispEdges"/><rect x="439" y="1" width="1" height="22" fill="#FFFFFF" shape-rendering="crispEdges"/>
<path d="M422.5,21.0 V8 M420,18.5 H433" stroke="#5C5C5C" stroke-width="1" fill="none"/>
<path d="M422.5,6.5 l-2.2,3 h4.4 Z M434.5,18.5 l-3,-2.2 v4.4 Z" fill="#5C5C5C"/>
<path d="M427.2,9 L431.5,12.4 L427.2,15.8 Z" fill="#58D858" stroke="#18A018" stroke-width="1"/>
<rect x="442" y="1" width="25" height="22" fill="#F9F9F9" shape-rendering="crispEdges"/>
<rect x="442" y="1" width="25" height="1" fill="#A0A0A0" shape-rendering="crispEdges"/><rect x="442" y="1" width="1" height="22" fill="#A0A0A0" shape-rendering="crispEdges"/>
<rect x="442" y="23" width="26" height="1" fill="#FFFFFF" shape-rendering="crispEdges"/><rect x="467" y="1" width="1" height="22" fill="#FFFFFF" shape-rendering="crispEdges"/>
<path d="M450.5,21.0 V8 M448,18.5 H461" stroke="#5C5C5C" stroke-width="1" fill="none"/>
<path d="M450.5,6.5 l-2.2,3 h4.4 Z M462.5,18.5 l-3,-2.2 v4.4 Z" fill="#5C5C5C"/>
<rect x="456" y="7" width="1.3" height="10" fill="#1878A8"/>
<path d="M457.8,12.5 L461.5,10 L460.3,12.5 L461.5,15 Z M460,12.5 H462.5" fill="#D84010" stroke="#D84010" stroke-width="0.8"/>
<rect x="471" y="2" width="1" height="21" fill="#A0A0A0" shape-rendering="crispEdges"/><rect x="472" y="2" width="1" height="21" fill="#FFFFFF" shape-rendering="crispEdges"/>
<path d="M481.5,5.5 H489.5 L492.5,8.5 V18 H481.5 Z" fill="#FCFCFC" stroke="#A0A0A0" stroke-width="1"/>
<text x="483" y="15.5" font-size="10" font-style="italic" fill="#605040" font-family="Liberation Serif, serif">f</text>
<path d="M489.3,11.4 h3.4 v3.8999999999999995 h3.8999999999999995 v3.4 h-3.8999999999999995 v3.8999999999999995 h-3.4 v-3.8999999999999995 h-3.8999999999999995 v-3.4 h3.8999999999999995 Z" fill="url(#gplus)" stroke="#12900E" stroke-width="0.9" stroke-linejoin="round"/>
<path d="M503,12 h5 l-2.5,3 Z" fill="#000"/>
<circle cx="527" cy="12.9" r="7" fill="#F6FAFF" stroke="url(#gclock)" stroke-width="2.3"/>
<circle cx="527" cy="12.9" r="5.6" fill="none" stroke="#9CC8F4" stroke-width="0.6"/>
<circle cx="527.00" cy="8.50" r="0.45" fill="#8A8A8A"/>
<circle cx="529.20" cy="9.09" r="0.45" fill="#8A8A8A"/>
<circle cx="530.81" cy="10.70" r="0.45" fill="#8A8A8A"/>
<circle cx="531.40" cy="12.90" r="0.45" fill="#8A8A8A"/>
<circle cx="530.81" cy="15.10" r="0.45" fill="#8A8A8A"/>
<circle cx="529.20" cy="16.71" r="0.45" fill="#8A8A8A"/>
<circle cx="527.00" cy="17.30" r="0.45" fill="#8A8A8A"/>
<circle cx="524.80" cy="16.71" r="0.45" fill="#8A8A8A"/>
<circle cx="523.19" cy="15.10" r="0.45" fill="#8A8A8A"/>
<circle cx="522.60" cy="12.90" r="0.45" fill="#8A8A8A"/>
<circle cx="523.19" cy="10.70" r="0.45" fill="#8A8A8A"/>
<circle cx="524.80" cy="9.09" r="0.45" fill="#8A8A8A"/>
<path d="M526.6,9.6 V13.2 L529.4,13.8" stroke="#282828" stroke-width="1.2" fill="none"/>
<path d="M524.4,16.6 Q527,17.6 529.6,16.6" stroke="#7CB8F8" stroke-width="0.9" fill="none"/>
<path d="M542,12 h5 l-2.5,3 Z" fill="#000"/>
<rect x="558.5" y="6.5" width="15" height="13" fill="#FFFFFF" stroke="#2868C8" stroke-width="1.2"/><rect x="559" y="7" width="14" height="2" fill="#5090E0"/><rect x="559" y="13.5" width="14" height="1" fill="#88B0E8"/>
<path d="M560.5,12.3 L563,12 L565.5,10.5 L568,11.5 L571.5,10.3" stroke="#B83010" stroke-width="1.2" fill="none"/>
<path d="M560.5,17.5 L563,16.6 L565,17.2 L568.5,15.3 L571.5,17.3" stroke="#20A020" stroke-width="1.2" fill="none"/>
<path d="M581,12 h5 l-2.5,3 Z" fill="#000"/>
<rect x="592" y="0" width="1" height="25" fill="#A0A0A0" shape-rendering="crispEdges"/><rect x="593" y="0" width="1" height="25" fill="#FFFFFF" shape-rendering="crispEdges"/>
<rect x="596" y="3" width="3" height="1" fill="#A8A8A8" shape-rendering="crispEdges"/>
<rect x="596" y="5" width="3" height="1" fill="#A8A8A8" shape-rendering="crispEdges"/>
<rect x="596" y="7" width="3" height="1" fill="#A8A8A8" shape-rendering="crispEdges"/>
<rect x="596" y="9" width="3" height="1" fill="#A8A8A8" shape-rendering="crispEdges"/>
<rect x="596" y="11" width="3" height="1" fill="#A8A8A8" shape-rendering="crispEdges"/>
<rect x="596" y="13" width="3" height="1" fill="#A8A8A8" shape-rendering="crispEdges"/>
<rect x="596" y="15" width="3" height="1" fill="#A8A8A8" shape-rendering="crispEdges"/>
<rect x="596" y="17" width="3" height="1" fill="#A8A8A8" shape-rendering="crispEdges"/>
<rect x="596" y="19" width="3" height="1" fill="#A8A8A8" shape-rendering="crispEdges"/>
<rect x="596" y="21" width="3" height="1" fill="#A8A8A8" shape-rendering="crispEdges"/>
<rect x="602" y="1" width="25" height="22" fill="#F9F9F9" shape-rendering="crispEdges"/>
<rect x="602" y="1" width="25" height="1" fill="#A0A0A0" shape-rendering="crispEdges"/><rect x="602" y="1" width="1" height="22" fill="#A0A0A0" shape-rendering="crispEdges"/>
<rect x="602" y="23" width="26" height="1" fill="#FFFFFF" shape-rendering="crispEdges"/><rect x="627" y="1" width="1" height="22" fill="#FFFFFF" shape-rendering="crispEdges"/>
<path d="M610,6 L610,17 L612.6,14.6 L615,19.8 L616.8,19 L614.5,13.9 L618,13.6 Z" fill="#505050"/>
<path d="M642.3,6 V12 M642.3,15 V21 M635,13.4 H640.8 M643.8,13.4 H650" stroke="#606060" stroke-width="1.2"/>
<rect x="659" y="2" width="1" height="21" fill="#A0A0A0" shape-rendering="crispEdges"/><rect x="660" y="2" width="1" height="21" fill="#FFFFFF" shape-rendering="crispEdges"/>
<path d="M676.4,7 V19.8" stroke="#606060" stroke-width="1.2"/>
<path d="M699,13.4 H711" stroke="#606060" stroke-width="1.2"/>
<path d="M727,19.7 L739,7.9" stroke="#606060" stroke-width="1.2"/>
<path d="M753,14.5 L761,7 M755,19 L765,10 M758,19.5 L767,11.5" stroke="#606060" stroke-width="1"/>
<path d="M756,12 V17 M759,10 V16 M762,8 V14 M765,5 V12" stroke="#606060" stroke-width="0.9"/>
<text x="763.6" y="21.6" font-size="6.5" font-weight="bold" fill="#404040">E</text>
<path d="M781.7,6.5 H795" stroke="#505050" stroke-width="1" stroke-dasharray="1,1" shape-rendering="crispEdges"/>
<path d="M781.7,9.3 H795" stroke="#505050" stroke-width="1" stroke-dasharray="1,1" shape-rendering="crispEdges"/>
<path d="M781.7,13.3 H795" stroke="#505050" stroke-width="1" stroke-dasharray="1,1" shape-rendering="crispEdges"/>
<path d="M781.7,17.2 H791" stroke="#505050" stroke-width="1" stroke-dasharray="1,1" shape-rendering="crispEdges"/>
<text x="791.6" y="21.6" font-size="6.5" font-weight="bold" fill="#404040">F</text>
<text x="816.6" y="18" font-size="12.8" fill="#585858" stroke="#585858" stroke-width="0.35" text-anchor="middle">A</text>
<rect x="839.5" y="7.5" width="11" height="12" fill="none" stroke="#505050" stroke-width="1" stroke-dasharray="1,1" shape-rendering="crispEdges"/>
<text x="845" y="17.6" font-size="10.5" font-weight="bold" fill="#606060" text-anchor="middle">T</text>
<path d="M869.3,6.8 L872.8,10 L870.5,11.6 H868 L865.8,10 Z" fill="#505050"/>
<path d="M876.6,20 L873.2,16.8 L875.4,15.2 H877.9 L880,16.8 Z" fill="#505050"/>
<path d="M868.5,14 L870.5,16 L875,10.5" stroke="#505050" stroke-width="1.2" fill="none"/>
<path d="M887,12 h5 l-2.5,3 Z" fill="#000"/>
<rect x="898" y="0" width="1" height="25" fill="#A0A0A0" shape-rendering="crispEdges"/><rect x="899" y="0" width="1" height="25" fill="#FFFFFF" shape-rendering="crispEdges"/>
<rect x="902" y="3" width="3" height="1" fill="#A8A8A8" shape-rendering="crispEdges"/>
<rect x="902" y="5" width="3" height="1" fill="#A8A8A8" shape-rendering="crispEdges"/>
<rect x="902" y="7" width="3" height="1" fill="#A8A8A8" shape-rendering="crispEdges"/>
<rect x="902" y="9" width="3" height="1" fill="#A8A8A8" shape-rendering="crispEdges"/>
<rect x="902" y="11" width="3" height="1" fill="#A8A8A8" shape-rendering="crispEdges"/>
<rect x="902" y="13" width="3" height="1" fill="#A8A8A8" shape-rendering="crispEdges"/>
<rect x="902" y="15" width="3" height="1" fill="#A8A8A8" shape-rendering="crispEdges"/>
<rect x="902" y="17" width="3" height="1" fill="#A8A8A8" shape-rendering="crispEdges"/>
<rect x="902" y="19" width="3" height="1" fill="#A8A8A8" shape-rendering="crispEdges"/>
<rect x="902" y="21" width="3" height="1" fill="#A8A8A8" shape-rendering="crispEdges"/>
<rect x="1048" y="1" width="25" height="22" fill="#F9F9F9" shape-rendering="crispEdges"/>
<rect x="1048" y="1" width="25" height="1" fill="#A0A0A0" shape-rendering="crispEdges"/><rect x="1048" y="1" width="1" height="22" fill="#A0A0A0" shape-rendering="crispEdges"/>
<rect x="1048" y="23" width="26" height="1" fill="#FFFFFF" shape-rendering="crispEdges"/><rect x="1073" y="1" width="1" height="22" fill="#FFFFFF" shape-rendering="crispEdges"/>
<text x="920" y="17" font-size="9.3" fill="#505050" text-anchor="middle">M1</text>
<text x="947.8" y="17" font-size="9.3" fill="#505050" text-anchor="middle">M5</text>
<text x="976.5" y="17" font-size="9.3" fill="#505050" text-anchor="middle">M15</text>
<text x="1004.5" y="17" font-size="9.3" fill="#505050" text-anchor="middle">M30</text>
<text x="1032" y="17" font-size="9.3" fill="#505050" text-anchor="middle">H1</text>
<text x="1059.7" y="17" font-size="9.3" fill="#505050" text-anchor="middle">H4</text>
<text x="1088.3" y="17" font-size="9.3" fill="#505050" text-anchor="middle">D1</text>
<text x="1117" y="17" font-size="9.3" fill="#505050" text-anchor="middle">W1</text>
<text x="1143.8" y="17" font-size="9.3" fill="#505050" text-anchor="middle">MN</text>
<rect x="1159" y="0" width="1" height="25" fill="#A0A0A0" shape-rendering="crispEdges"/><rect x="1160" y="0" width="1" height="25" fill="#FFFFFF" shape-rendering="crispEdges"/>
<path d="M1626.7,13.3 L1622.2,17.8" stroke="#2050D8" stroke-width="2.6" stroke-linecap="round"/>
<circle cx="1629.6" cy="10.3" r="3.9" fill="#F8F8FF" stroke="#2858E0" stroke-width="1.5"/>
<path d="M1662,5.2 c3.6,0 6.4,2.2 6.4,4.9 c0,2 -1.4,3.6 -3.4,4.4 l0.6,2.3 l-2.6,-1.8 c-0.4,0 -0.7,0.1 -1,0.1 c-3.6,0 -6.4,-2.2 -6.4,-4.9 c0,-2.8 2.8,-5 6.4,-5 Z" fill="url(#gbub)" stroke="#909090" stroke-width="0.9"/>
<path d="M1653.2,10.3 c2.8,0 5,1.8 5,4 c0,2.2 -2.2,4 -5,4 c-0.4,0 -0.8,0 -1.2,-0.1 l-2.2,1.6 l0.5,-2.2 c-1.3,-0.7 -2.1,-1.9 -2.1,-3.3 c0,-2.2 2.2,-4 5,-4 Z" fill="url(#gbub)" stroke="#909090" stroke-width="0.9"/>
</g></svg></body></html>
